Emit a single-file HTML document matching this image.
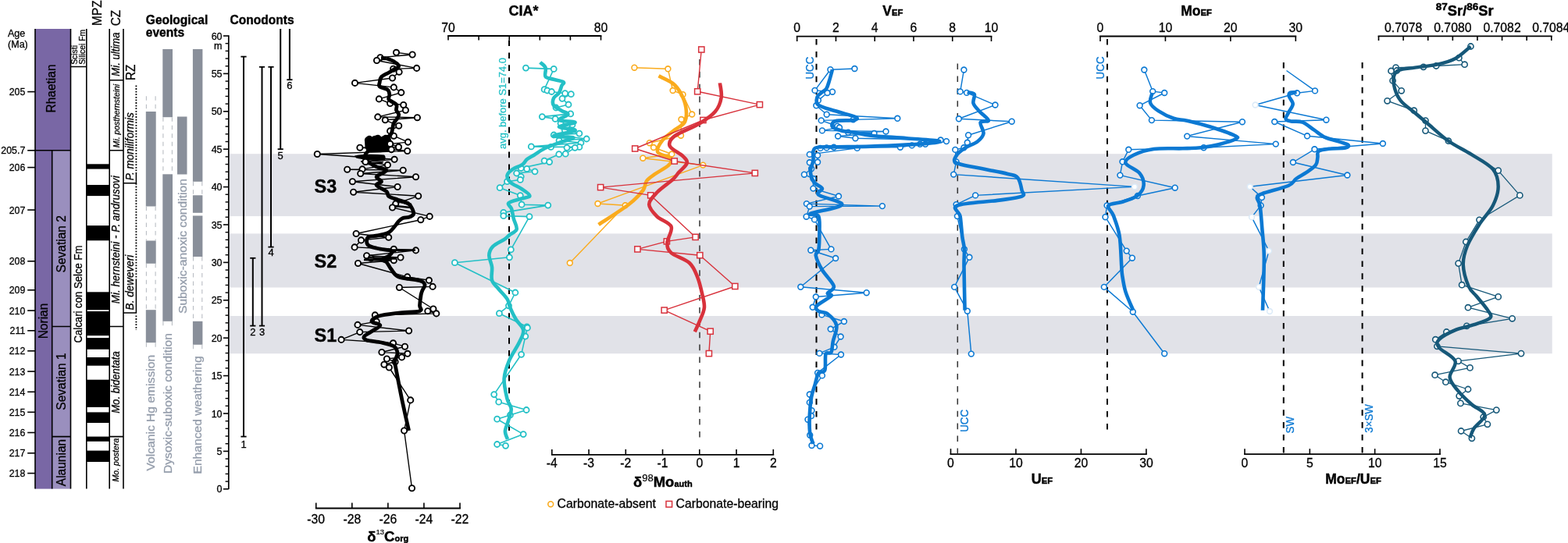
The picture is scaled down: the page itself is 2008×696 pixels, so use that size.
<!DOCTYPE html>
<html><head><meta charset="utf-8"><title>Figure</title>
<style>html,body{margin:0;padding:0;background:#fff;width:2008px;height:696px;overflow:hidden}svg{display:block}</style>
</head><body>
<svg width="2008" height="696" viewBox="0 0 2008 696" font-family="'Liberation Sans', Arial, Helvetica, sans-serif">
<rect x="293.8" y="197.2" width="1693.9" height="79.9" fill="#e1e2e8" />
<rect x="293.8" y="299.4" width="1693.9" height="69.1" fill="#e1e2e8" />
<rect x="293.8" y="405" width="1693.9" height="48.2" fill="#e1e2e8" />
<line x1="35.2" y1="117.6" x2="45" y2="117.6" stroke="#000" stroke-width="1.6" />
<text x="0" y="0" font-size="13.02" text-anchor="end" fill="#000" stroke="#000" stroke-width="0.3" transform="translate(32.3 122) scale(0.95 1)" >205</text>
<line x1="35.2" y1="192.8" x2="45" y2="192.8" stroke="#000" stroke-width="1.6" />
<text x="0" y="0" font-size="13.02" text-anchor="end" fill="#000" stroke="#000" stroke-width="0.3" transform="translate(32.3 197.2) scale(0.95 1)" >205.7</text>
<line x1="35.2" y1="214.6" x2="45" y2="214.6" stroke="#000" stroke-width="1.6" />
<text x="0" y="0" font-size="13.02" text-anchor="end" fill="#000" stroke="#000" stroke-width="0.3" transform="translate(32.3 219) scale(0.95 1)" >206</text>
<line x1="35.2" y1="269.1" x2="45" y2="269.1" stroke="#000" stroke-width="1.6" />
<text x="0" y="0" font-size="13.02" text-anchor="end" fill="#000" stroke="#000" stroke-width="0.3" transform="translate(32.3 273.5) scale(0.95 1)" >207</text>
<line x1="35.2" y1="334.8" x2="45" y2="334.8" stroke="#000" stroke-width="1.6" />
<text x="0" y="0" font-size="13.02" text-anchor="end" fill="#000" stroke="#000" stroke-width="0.3" transform="translate(32.3 339.2) scale(0.95 1)" >208</text>
<line x1="35.2" y1="371.8" x2="45" y2="371.8" stroke="#000" stroke-width="1.6" />
<text x="0" y="0" font-size="13.02" text-anchor="end" fill="#000" stroke="#000" stroke-width="0.3" transform="translate(32.3 376.2) scale(0.95 1)" >209</text>
<line x1="35.2" y1="398.1" x2="45" y2="398.1" stroke="#000" stroke-width="1.6" />
<text x="0" y="0" font-size="13.02" text-anchor="end" fill="#000" stroke="#000" stroke-width="0.3" transform="translate(32.3 402.5) scale(0.95 1)" >210</text>
<line x1="35.2" y1="423.8" x2="45" y2="423.8" stroke="#000" stroke-width="1.6" />
<text x="0" y="0" font-size="13.02" text-anchor="end" fill="#000" stroke="#000" stroke-width="0.3" transform="translate(32.3 428.2) scale(0.95 1)" >211</text>
<line x1="35.2" y1="449.8" x2="45" y2="449.8" stroke="#000" stroke-width="1.6" />
<text x="0" y="0" font-size="13.02" text-anchor="end" fill="#000" stroke="#000" stroke-width="0.3" transform="translate(32.3 454.2) scale(0.95 1)" >212</text>
<line x1="35.2" y1="476.1" x2="45" y2="476.1" stroke="#000" stroke-width="1.6" />
<text x="0" y="0" font-size="13.02" text-anchor="end" fill="#000" stroke="#000" stroke-width="0.3" transform="translate(32.3 480.5) scale(0.95 1)" >213</text>
<line x1="35.2" y1="502.3" x2="45" y2="502.3" stroke="#000" stroke-width="1.6" />
<text x="0" y="0" font-size="13.02" text-anchor="end" fill="#000" stroke="#000" stroke-width="0.3" transform="translate(32.3 506.7) scale(0.95 1)" >214</text>
<line x1="35.2" y1="528.3" x2="45" y2="528.3" stroke="#000" stroke-width="1.6" />
<text x="0" y="0" font-size="13.02" text-anchor="end" fill="#000" stroke="#000" stroke-width="0.3" transform="translate(32.3 532.7) scale(0.95 1)" >215</text>
<line x1="35.2" y1="554.5" x2="45" y2="554.5" stroke="#000" stroke-width="1.6" />
<text x="0" y="0" font-size="13.02" text-anchor="end" fill="#000" stroke="#000" stroke-width="0.3" transform="translate(32.3 558.9) scale(0.95 1)" >216</text>
<line x1="35.2" y1="580.8" x2="45" y2="580.8" stroke="#000" stroke-width="1.6" />
<text x="0" y="0" font-size="13.02" text-anchor="end" fill="#000" stroke="#000" stroke-width="0.3" transform="translate(32.3 585.2) scale(0.95 1)" >217</text>
<line x1="35.2" y1="606.6" x2="45" y2="606.6" stroke="#000" stroke-width="1.6" />
<text x="0" y="0" font-size="13.02" text-anchor="end" fill="#000" stroke="#000" stroke-width="0.3" transform="translate(32.3 611) scale(0.95 1)" >218</text>
<text x="0" y="0" font-size="13.23" text-anchor="start" fill="#000" stroke="#000" stroke-width="0.3" transform="translate(10 47) scale(0.95 1)" >Age</text>
<text x="0" y="0" font-size="13.23" text-anchor="start" fill="#000" stroke="#000" stroke-width="0.3" transform="translate(10 60.5) scale(0.95 1)" >(Ma)</text>
<rect x="45" y="37" width="45.5" height="155.8" fill="#7967a5" />
<rect x="45" y="192.8" width="21.7" height="433.8" fill="#7967a5" />
<rect x="66.7" y="192.8" width="23.8" height="433.8" fill="#9a8fbe" />
<g stroke="#000" stroke-width="1.6" fill="none">
<path d="M45,37 V626.6 M90.5,37 V626.6 M45,192.8 H90.5 M66.7,192.8 V626.6 M66.7,418.5 H90.5 M66.7,559.6 H90.5"/>
</g>
<text x="0" y="0" font-size="17.05" text-anchor="middle" fill="#000" stroke="#000" stroke-width="0.3" transform="translate(71 113.5) rotate(-90) scale(0.91 1)" >Rhaetian</text>
<text x="0" y="0" font-size="17.05" text-anchor="middle" fill="#000" stroke="#000" stroke-width="0.3" transform="translate(61.4 411.5) rotate(-90) scale(0.91 1)" >Norian</text>
<text x="0" y="0" font-size="17.05" text-anchor="middle" fill="#000" stroke="#000" stroke-width="0.3" transform="translate(84.2 312.8) rotate(-90) scale(0.91 1)" >Sevatian 2</text>
<text x="0" y="0" font-size="17.05" text-anchor="middle" fill="#000" stroke="#000" stroke-width="0.3" transform="translate(84.2 489) rotate(-90) scale(0.91 1)" >Sevatian 1</text>
<text x="0" y="0" font-size="17.05" text-anchor="middle" fill="#000" stroke="#000" stroke-width="0.3" transform="translate(84.2 593) rotate(-90) scale(0.91 1)" >Alaunian</text>
<g stroke="#000" stroke-width="1.6" fill="none">
<path d="M110.8,37 V626.6 M90.5,85.5 H110.8"/>
</g>
<text x="0" y="0" font-size="10.92" text-anchor="start" fill="#000" stroke="#000" stroke-width="0.3" transform="translate(98.9 82.8) rotate(-90) scale(0.95 1)" >Scisti</text>
<text x="0" y="0" font-size="10.92" text-anchor="start" fill="#000" stroke="#000" stroke-width="0.3" transform="translate(109.3 82.8) rotate(-90) scale(0.95 1)" >Silicei Fm</text>
<text x="0" y="0" font-size="13.86" text-anchor="middle" fill="#000" stroke="#000" stroke-width="0.3" transform="translate(104.6 377) rotate(-90) scale(0.95 1)" >Calcari con Selce Fm</text>
<rect x="110.8" y="210.3" width="29.4" height="6.3" fill="#000" />
<rect x="110.8" y="237" width="29.4" height="14.1" fill="#000" />
<rect x="110.8" y="289.1" width="29.4" height="19.2" fill="#000" />
<rect x="110.8" y="374.3" width="29.4" height="23" fill="#000" />
<rect x="110.8" y="399" width="29.4" height="31.2" fill="#000" />
<rect x="110.8" y="433.1" width="29.4" height="14.7" fill="#000" />
<rect x="110.8" y="458" width="29.4" height="10.7" fill="#000" />
<rect x="110.8" y="486.7" width="29.4" height="35.2" fill="#000" />
<rect x="110.8" y="528.4" width="29.4" height="13.6" fill="#000" />
<rect x="110.8" y="559.6" width="29.4" height="6.2" fill="#000" />
<rect x="110.8" y="577.6" width="29.4" height="14.4" fill="#000" />
<path d="M140.2,37 V626.6" stroke="#000" stroke-width="1.6"/>
<text x="0" y="0" font-size="16.28" text-anchor="middle" fill="#000" stroke="#000" stroke-width="0.3" transform="translate(130 16.6) rotate(-90) scale(0.95 1)" >MPZ</text>
<g stroke="#000" stroke-width="1.6" fill="none">
<path d="M158,37 V626.6 M140.2,102.7 H158 M140.2,192.8 H158 M140.2,418.5 H158 M140.2,559.6 H158"/>
</g>
<text x="0" y="0" font-size="16.28" text-anchor="middle" fill="#000" stroke="#000" stroke-width="0.3" transform="translate(153.6 23) rotate(-90) scale(0.95 1)" >CZ</text>
<text x="0" y="0" font-size="13.86" text-anchor="middle" fill="#000" stroke="#000" stroke-width="0.3" font-style="italic" transform="translate(152.9 69.5) rotate(-90) scale(0.95 1)" >Mi. ultima</text>
<text x="0" y="0" font-size="10.92" text-anchor="middle" fill="#000" stroke="#000" stroke-width="0.3" font-style="italic" transform="translate(152.8 148.6) rotate(-90) scale(0.95 1)" >Mi. posthernsteini</text>
<text x="0" y="0" font-size="14.07" text-anchor="middle" fill="#000" stroke="#000" stroke-width="0.3" font-style="italic" transform="translate(153.4 307.2) rotate(-90) scale(0.95 1)" >Mi. hernsteini - P. andrusovi</text>
<text x="0" y="0" font-size="13.86" text-anchor="middle" fill="#000" stroke="#000" stroke-width="0.3" font-style="italic" transform="translate(153.2 490) rotate(-90) scale(0.95 1)" >Mo. bidentata</text>
<text x="0" y="0" font-size="11.13" text-anchor="middle" fill="#000" stroke="#000" stroke-width="0.3" font-style="italic" transform="translate(151.6 589.6) rotate(-90) scale(0.95 1)" >Mo. postera</text>
<text x="0" y="0" font-size="16.28" text-anchor="middle" fill="#000" stroke="#000" stroke-width="0.3" transform="translate(172.6 92.8) rotate(-90) scale(0.95 1)" >RZ</text>
<g stroke="#000" fill="none">
<path d="M174.4,109.5 V222 M174.4,235 V358 M174.4,404.5 V423" stroke-width="1.8" stroke-dasharray="1.8 1.8"/>
<path d="M158,234.7 H174.4 V222 M158,401 H174.4 V358" stroke-width="1.5"/>
</g>
<text x="0" y="0" font-size="14.28" text-anchor="middle" fill="#000" stroke="#000" stroke-width="0.3" font-style="italic" transform="translate(170.5 187.8) rotate(-90) scale(0.95 1)" >P. moniliformis</text>
<text x="0" y="0" font-size="14.28" text-anchor="middle" fill="#000" stroke="#000" stroke-width="0.3" font-style="italic" transform="translate(170.5 362) rotate(-90) scale(0.95 1)" >B. deweveri</text>
<text x="0" y="0" font-size="16.38" text-anchor="start" fill="#000" font-weight="bold" stroke="#000" stroke-width="0.4" transform="translate(186.8 31.2) scale(0.95 1)" >Geological</text>
<text x="0" y="0" font-size="16.38" text-anchor="start" fill="#000" font-weight="bold" stroke="#000" stroke-width="0.4" transform="translate(186.8 46.8) scale(0.95 1)" >events</text>
<rect x="186.8" y="143" width="12.9" height="121.5" fill="#898f9a" />
<rect x="186.8" y="308.5" width="12.9" height="29.3" fill="#898f9a" />
<rect x="186.8" y="397.2" width="12.9" height="42" fill="#898f9a" />
<path d="M187.4,123.3 V143 M199.1,123.3 V143" stroke="#b9bdc4" stroke-width="1.1" stroke-dasharray="5.5 5" fill="none"/>
<path d="M187.4,264.5 V308.5 M199.1,264.5 V308.5" stroke="#b9bdc4" stroke-width="1.1" stroke-dasharray="5.5 5" fill="none"/>
<path d="M187.4,337.8 V397.2 M199.1,337.8 V397.2" stroke="#b9bdc4" stroke-width="1.1" stroke-dasharray="5.5 5" fill="none"/>
<path d="M187.4,439.2 V448.5 M199.1,439.2 V448.5" stroke="#b9bdc4" stroke-width="1.1" stroke-dasharray="5.5 5" fill="none"/>
<rect x="208.3" y="63" width="12.7" height="87.2" fill="#898f9a" />
<rect x="208.3" y="223.3" width="12.7" height="188.5" fill="#898f9a" />
<path d="M208.9,150.2 V223.3 M220.4,150.2 V223.3" stroke="#b9bdc4" stroke-width="1.1" stroke-dasharray="5.5 5" fill="none"/>
<path d="M208.9,411.8 V419.5 M220.4,411.8 V419.5" stroke="#b9bdc4" stroke-width="1.1" stroke-dasharray="5.5 5" fill="none"/>
<rect x="227" y="149.5" width="12.5" height="74" fill="#898f9a" />
<rect x="246.9" y="63" width="12.5" height="169.8" fill="#898f9a" />
<rect x="246.9" y="250.3" width="12.5" height="22.5" fill="#898f9a" />
<rect x="246.9" y="276.5" width="12.5" height="52.5" fill="#898f9a" />
<rect x="246.9" y="411.8" width="12.5" height="30" fill="#898f9a" />
<path d="M247.5,232.8 V250.3 M258.8,232.8 V250.3" stroke="#b9bdc4" stroke-width="1.1" stroke-dasharray="5.5 5" fill="none"/>
<path d="M247.5,329 V411.8 M258.8,329 V411.8" stroke="#b9bdc4" stroke-width="1.1" stroke-dasharray="5.5 5" fill="none"/>
<path d="M247.5,441.8 V449 M258.8,441.8 V449" stroke="#b9bdc4" stroke-width="1.1" stroke-dasharray="5.5 5" fill="none"/>
<text x="0" y="0" font-size="14.91" text-anchor="start" fill="#949dab" stroke="#949dab" stroke-width="0.3" transform="translate(197.7 603.5) rotate(-90) scale(1.05 1)" >Volcanic Hg emission</text>
<text x="0" y="0" font-size="14.91" text-anchor="start" fill="#949dab" stroke="#949dab" stroke-width="0.3" transform="translate(219.6 607) rotate(-90) scale(1.05 1)" >Dysoxic-suboxic condition</text>
<text x="0" y="0" font-size="14.91" text-anchor="start" fill="#949dab" stroke="#949dab" stroke-width="0.3" transform="translate(238.8 402) rotate(-90) scale(1.05 1)" >Suboxic-anoxic condition</text>
<text x="0" y="0" font-size="14.91" text-anchor="start" fill="#949dab" stroke="#949dab" stroke-width="0.3" transform="translate(257.8 607.5) rotate(-90) scale(1.05 1)" >Enhanced weathering</text>
<path d="M292.8,45.3 V626.9" stroke="#000" stroke-width="1.7"/>
<line x1="286" y1="626.8" x2="292.8" y2="626.8" stroke="#000" stroke-width="1.6" />
<line x1="288.6" y1="617.12" x2="292.8" y2="617.12" stroke="#000" stroke-width="1.4" />
<line x1="288.6" y1="607.44" x2="292.8" y2="607.44" stroke="#000" stroke-width="1.4" />
<line x1="288.6" y1="597.76" x2="292.8" y2="597.76" stroke="#000" stroke-width="1.4" />
<line x1="288.6" y1="588.08" x2="292.8" y2="588.08" stroke="#000" stroke-width="1.4" />
<line x1="286" y1="578.4" x2="292.8" y2="578.4" stroke="#000" stroke-width="1.6" />
<line x1="288.6" y1="568.72" x2="292.8" y2="568.72" stroke="#000" stroke-width="1.4" />
<line x1="288.6" y1="559.04" x2="292.8" y2="559.04" stroke="#000" stroke-width="1.4" />
<line x1="288.6" y1="549.36" x2="292.8" y2="549.36" stroke="#000" stroke-width="1.4" />
<line x1="288.6" y1="539.68" x2="292.8" y2="539.68" stroke="#000" stroke-width="1.4" />
<line x1="286" y1="530" x2="292.8" y2="530" stroke="#000" stroke-width="1.6" />
<line x1="288.6" y1="520.32" x2="292.8" y2="520.32" stroke="#000" stroke-width="1.4" />
<line x1="288.6" y1="510.64" x2="292.8" y2="510.64" stroke="#000" stroke-width="1.4" />
<line x1="288.6" y1="500.96" x2="292.8" y2="500.96" stroke="#000" stroke-width="1.4" />
<line x1="288.6" y1="491.28" x2="292.8" y2="491.28" stroke="#000" stroke-width="1.4" />
<line x1="286" y1="481.6" x2="292.8" y2="481.6" stroke="#000" stroke-width="1.6" />
<line x1="288.6" y1="471.92" x2="292.8" y2="471.92" stroke="#000" stroke-width="1.4" />
<line x1="288.6" y1="462.24" x2="292.8" y2="462.24" stroke="#000" stroke-width="1.4" />
<line x1="288.6" y1="452.56" x2="292.8" y2="452.56" stroke="#000" stroke-width="1.4" />
<line x1="288.6" y1="442.88" x2="292.8" y2="442.88" stroke="#000" stroke-width="1.4" />
<line x1="286" y1="433.2" x2="292.8" y2="433.2" stroke="#000" stroke-width="1.6" />
<line x1="288.6" y1="423.52" x2="292.8" y2="423.52" stroke="#000" stroke-width="1.4" />
<line x1="288.6" y1="413.84" x2="292.8" y2="413.84" stroke="#000" stroke-width="1.4" />
<line x1="288.6" y1="404.16" x2="292.8" y2="404.16" stroke="#000" stroke-width="1.4" />
<line x1="288.6" y1="394.48" x2="292.8" y2="394.48" stroke="#000" stroke-width="1.4" />
<line x1="286" y1="384.8" x2="292.8" y2="384.8" stroke="#000" stroke-width="1.6" />
<line x1="288.6" y1="375.12" x2="292.8" y2="375.12" stroke="#000" stroke-width="1.4" />
<line x1="288.6" y1="365.44" x2="292.8" y2="365.44" stroke="#000" stroke-width="1.4" />
<line x1="288.6" y1="355.76" x2="292.8" y2="355.76" stroke="#000" stroke-width="1.4" />
<line x1="288.6" y1="346.08" x2="292.8" y2="346.08" stroke="#000" stroke-width="1.4" />
<line x1="286" y1="336.4" x2="292.8" y2="336.4" stroke="#000" stroke-width="1.6" />
<line x1="288.6" y1="326.72" x2="292.8" y2="326.72" stroke="#000" stroke-width="1.4" />
<line x1="288.6" y1="317.04" x2="292.8" y2="317.04" stroke="#000" stroke-width="1.4" />
<line x1="288.6" y1="307.36" x2="292.8" y2="307.36" stroke="#000" stroke-width="1.4" />
<line x1="288.6" y1="297.68" x2="292.8" y2="297.68" stroke="#000" stroke-width="1.4" />
<line x1="286" y1="288" x2="292.8" y2="288" stroke="#000" stroke-width="1.6" />
<line x1="288.6" y1="278.32" x2="292.8" y2="278.32" stroke="#000" stroke-width="1.4" />
<line x1="288.6" y1="268.64" x2="292.8" y2="268.64" stroke="#000" stroke-width="1.4" />
<line x1="288.6" y1="258.96" x2="292.8" y2="258.96" stroke="#000" stroke-width="1.4" />
<line x1="288.6" y1="249.28" x2="292.8" y2="249.28" stroke="#000" stroke-width="1.4" />
<line x1="286" y1="239.6" x2="292.8" y2="239.6" stroke="#000" stroke-width="1.6" />
<line x1="288.6" y1="229.92" x2="292.8" y2="229.92" stroke="#000" stroke-width="1.4" />
<line x1="288.6" y1="220.24" x2="292.8" y2="220.24" stroke="#000" stroke-width="1.4" />
<line x1="288.6" y1="210.56" x2="292.8" y2="210.56" stroke="#000" stroke-width="1.4" />
<line x1="288.6" y1="200.88" x2="292.8" y2="200.88" stroke="#000" stroke-width="1.4" />
<line x1="286" y1="191.2" x2="292.8" y2="191.2" stroke="#000" stroke-width="1.6" />
<line x1="288.6" y1="181.52" x2="292.8" y2="181.52" stroke="#000" stroke-width="1.4" />
<line x1="288.6" y1="171.84" x2="292.8" y2="171.84" stroke="#000" stroke-width="1.4" />
<line x1="288.6" y1="162.16" x2="292.8" y2="162.16" stroke="#000" stroke-width="1.4" />
<line x1="288.6" y1="152.48" x2="292.8" y2="152.48" stroke="#000" stroke-width="1.4" />
<line x1="286" y1="142.8" x2="292.8" y2="142.8" stroke="#000" stroke-width="1.6" />
<line x1="288.6" y1="133.12" x2="292.8" y2="133.12" stroke="#000" stroke-width="1.4" />
<line x1="288.6" y1="123.44" x2="292.8" y2="123.44" stroke="#000" stroke-width="1.4" />
<line x1="288.6" y1="113.76" x2="292.8" y2="113.76" stroke="#000" stroke-width="1.4" />
<line x1="288.6" y1="104.08" x2="292.8" y2="104.08" stroke="#000" stroke-width="1.4" />
<line x1="286" y1="94.4" x2="292.8" y2="94.4" stroke="#000" stroke-width="1.6" />
<line x1="288.6" y1="84.72" x2="292.8" y2="84.72" stroke="#000" stroke-width="1.4" />
<line x1="288.6" y1="75.04" x2="292.8" y2="75.04" stroke="#000" stroke-width="1.4" />
<line x1="288.6" y1="65.36" x2="292.8" y2="65.36" stroke="#000" stroke-width="1.4" />
<line x1="288.6" y1="55.68" x2="292.8" y2="55.68" stroke="#000" stroke-width="1.4" />
<line x1="286" y1="46" x2="292.8" y2="46" stroke="#000" stroke-width="1.6" />
<text x="0" y="0" font-size="13.23" text-anchor="end" fill="#000" stroke="#000" stroke-width="0.3" transform="translate(284.6 631.3) scale(0.95 1)" >0</text>
<text x="0" y="0" font-size="13.23" text-anchor="end" fill="#000" stroke="#000" stroke-width="0.3" transform="translate(284.6 582.9) scale(0.95 1)" >5</text>
<text x="0" y="0" font-size="13.23" text-anchor="end" fill="#000" stroke="#000" stroke-width="0.3" transform="translate(284.6 534.5) scale(0.95 1)" >10</text>
<text x="0" y="0" font-size="13.23" text-anchor="end" fill="#000" stroke="#000" stroke-width="0.3" transform="translate(284.6 486.1) scale(0.95 1)" >15</text>
<text x="0" y="0" font-size="13.23" text-anchor="end" fill="#000" stroke="#000" stroke-width="0.3" transform="translate(284.6 437.7) scale(0.95 1)" >20</text>
<text x="0" y="0" font-size="13.23" text-anchor="end" fill="#000" stroke="#000" stroke-width="0.3" transform="translate(284.6 389.3) scale(0.95 1)" >25</text>
<text x="0" y="0" font-size="13.23" text-anchor="end" fill="#000" stroke="#000" stroke-width="0.3" transform="translate(284.6 340.9) scale(0.95 1)" >30</text>
<text x="0" y="0" font-size="13.23" text-anchor="end" fill="#000" stroke="#000" stroke-width="0.3" transform="translate(284.6 292.5) scale(0.95 1)" >35</text>
<text x="0" y="0" font-size="13.23" text-anchor="end" fill="#000" stroke="#000" stroke-width="0.3" transform="translate(284.6 244.1) scale(0.95 1)" >40</text>
<text x="0" y="0" font-size="13.23" text-anchor="end" fill="#000" stroke="#000" stroke-width="0.3" transform="translate(284.6 195.7) scale(0.95 1)" >45</text>
<text x="0" y="0" font-size="13.23" text-anchor="end" fill="#000" stroke="#000" stroke-width="0.3" transform="translate(284.6 147.3) scale(0.95 1)" >50</text>
<text x="0" y="0" font-size="13.23" text-anchor="end" fill="#000" stroke="#000" stroke-width="0.3" transform="translate(284.6 98.9) scale(0.95 1)" >55</text>
<text x="0" y="0" font-size="13.23" text-anchor="end" fill="#000" stroke="#000" stroke-width="0.3" transform="translate(284.6 50.5) scale(0.95 1)" >60</text>
<text x="0" y="0" font-size="13.23" text-anchor="end" fill="#000" stroke="#000" stroke-width="0.3" transform="translate(284.4 62.8) scale(0.95 1)" >m</text>
<text x="0" y="0" font-size="16.38" text-anchor="start" fill="#000" font-weight="bold" stroke="#000" stroke-width="0.4" transform="translate(294.5 31.2) scale(0.95 1)" >Conodonts</text>
<line x1="312" y1="72.6" x2="312" y2="559.6" stroke="#000" stroke-width="2" />
<line x1="308.4" y1="72.6" x2="315.6" y2="72.6" stroke="#000" stroke-width="1.8" />
<line x1="308.4" y1="559.6" x2="315.6" y2="559.6" stroke="#000" stroke-width="1.8" />
<text x="0" y="0" font-size="13.65" text-anchor="middle" fill="#000" stroke="#000" stroke-width="0.3" transform="translate(312 573.8) scale(0.95 1)" >1</text>
<line x1="323.8" y1="330.8" x2="323.8" y2="417.6" stroke="#000" stroke-width="2" />
<line x1="320.2" y1="330.8" x2="327.4" y2="330.8" stroke="#000" stroke-width="1.8" />
<line x1="320.2" y1="417.6" x2="327.4" y2="417.6" stroke="#000" stroke-width="1.8" />
<text x="0" y="0" font-size="13.65" text-anchor="middle" fill="#000" stroke="#000" stroke-width="0.3" transform="translate(323.8 430) scale(0.95 1)" >2</text>
<line x1="335.5" y1="85.8" x2="335.5" y2="417.6" stroke="#000" stroke-width="2" />
<line x1="331.9" y1="85.8" x2="339.1" y2="85.8" stroke="#000" stroke-width="1.8" />
<line x1="331.9" y1="417.6" x2="339.1" y2="417.6" stroke="#000" stroke-width="1.8" />
<text x="0" y="0" font-size="13.65" text-anchor="middle" fill="#000" stroke="#000" stroke-width="0.3" transform="translate(335.5 430) scale(0.95 1)" >3</text>
<line x1="347" y1="85.8" x2="347" y2="316.6" stroke="#000" stroke-width="2" />
<line x1="343.4" y1="85.8" x2="350.6" y2="85.8" stroke="#000" stroke-width="1.8" />
<line x1="343.4" y1="316.6" x2="350.6" y2="316.6" stroke="#000" stroke-width="1.8" />
<text x="0" y="0" font-size="13.65" text-anchor="middle" fill="#000" stroke="#000" stroke-width="0.3" transform="translate(347 328.3) scale(0.95 1)" >4</text>
<line x1="359.2" y1="37" x2="359.2" y2="191.2" stroke="#000" stroke-width="2" />
<line x1="355.6" y1="191.2" x2="362.8" y2="191.2" stroke="#000" stroke-width="1.8" />
<text x="0" y="0" font-size="13.65" text-anchor="middle" fill="#000" stroke="#000" stroke-width="0.3" transform="translate(359.2 204) scale(0.95 1)" >5</text>
<line x1="370.9" y1="37" x2="370.9" y2="102.2" stroke="#000" stroke-width="2" />
<line x1="367.3" y1="102.2" x2="374.5" y2="102.2" stroke="#000" stroke-width="1.8" />
<text x="0" y="0" font-size="13.65" text-anchor="middle" fill="#000" stroke="#000" stroke-width="0.3" transform="translate(370.9 114.3) scale(0.95 1)" >6</text>
<text x="0" y="0" font-size="24.68" text-anchor="start" fill="#000" font-weight="bold" stroke="#000" stroke-width="0.4" transform="translate(402.6 246.6) scale(0.95 1)" >S3</text>
<text x="0" y="0" font-size="24.68" text-anchor="start" fill="#000" font-weight="bold" stroke="#000" stroke-width="0.4" transform="translate(402.6 343) scale(0.95 1)" >S2</text>
<text x="0" y="0" font-size="24.68" text-anchor="start" fill="#000" font-weight="bold" stroke="#000" stroke-width="0.4" transform="translate(402.6 438.2) scale(0.95 1)" >S1</text>
<path d="M403.85,651.5 H589.9" stroke="#000" stroke-width="1.8"/>
<path d="M404.75,651.5 V644.5" stroke="#000" stroke-width="1.6"/>
<path d="M450.81,651.5 V644.5" stroke="#000" stroke-width="1.6"/>
<path d="M496.87,651.5 V644.5" stroke="#000" stroke-width="1.6"/>
<path d="M542.93,651.5 V644.5" stroke="#000" stroke-width="1.6"/>
<path d="M588.99,651.5 V644.5" stroke="#000" stroke-width="1.6"/>
<text x="0" y="0" font-size="16.59" text-anchor="middle" fill="#000" stroke="#000" stroke-width="0.3" transform="translate(404.75 671) scale(0.95 1)" >-30</text>
<text x="0" y="0" font-size="16.59" text-anchor="middle" fill="#000" stroke="#000" stroke-width="0.3" transform="translate(450.81 671) scale(0.95 1)" >-28</text>
<text x="0" y="0" font-size="16.59" text-anchor="middle" fill="#000" stroke="#000" stroke-width="0.3" transform="translate(496.87 671) scale(0.95 1)" >-26</text>
<text x="0" y="0" font-size="16.59" text-anchor="middle" fill="#000" stroke="#000" stroke-width="0.3" transform="translate(542.93 671) scale(0.95 1)" >-24</text>
<text x="0" y="0" font-size="16.59" text-anchor="middle" fill="#000" stroke="#000" stroke-width="0.3" transform="translate(588.99 671) scale(0.95 1)" >-22</text>
<text x="470.3" y="693.8" font-family="'Liberation Sans', Arial, Helvetica, sans-serif" font-weight="bold" fill="#000" stroke="#000" stroke-width="0.45"><tspan font-size="18.5">δ</tspan><tspan font-size="9.5" dy="-8.8" font-weight="normal" stroke-width="0.2">13</tspan><tspan font-size="18.5" dy="8.8">C</tspan><tspan font-size="11">org</tspan></text>
<path d="M573.1,46 H770.4" stroke="#000" stroke-width="1.8"/>
<path d="M574,46 V51.6" stroke="#000" stroke-width="1.6"/>
<path d="M613.1,46 V51.6" stroke="#000" stroke-width="1.6"/>
<path d="M652.2,46 V51.6" stroke="#000" stroke-width="1.6"/>
<path d="M691.3,46 V51.6" stroke="#000" stroke-width="1.6"/>
<path d="M730.4,46 V51.6" stroke="#000" stroke-width="1.6"/>
<path d="M769.5,46 V51.6" stroke="#000" stroke-width="1.6"/>
<text x="0" y="0" font-size="16.59" text-anchor="middle" fill="#000" stroke="#000" stroke-width="0.3" transform="translate(574 40.9) scale(0.95 1)" >70</text>
<text x="0" y="0" font-size="16.59" text-anchor="middle" fill="#000" stroke="#000" stroke-width="0.3" transform="translate(769.5 40.9) scale(0.95 1)" >80</text>
<text x="0" y="0" font-size="18.9" text-anchor="middle" fill="#000" font-weight="bold" stroke="#000" stroke-width="0.4" transform="translate(670.5 19.6) scale(0.95 1)" >CIA*</text>
<path d="M652,51.5 V553" stroke="#000" stroke-width="2" stroke-dasharray="7.6 8.3"/>
<text x="0" y="0" font-size="13.65" text-anchor="start" fill="#24c0c6" stroke="#24c0c6" stroke-width="0.3" transform="translate(648.2 191) rotate(-90) scale(0.95 1)" >avg. before S1=74.0</text>
<path d="M705.9,582.9 H991.2" stroke="#000" stroke-width="1.8"/>
<path d="M706.8,582.9 V575.9" stroke="#000" stroke-width="1.6"/>
<path d="M754.05,582.9 V575.9" stroke="#000" stroke-width="1.6"/>
<path d="M801.3,582.9 V575.9" stroke="#000" stroke-width="1.6"/>
<path d="M848.55,582.9 V575.9" stroke="#000" stroke-width="1.6"/>
<path d="M895.8,582.9 V575.9" stroke="#000" stroke-width="1.6"/>
<path d="M943.05,582.9 V575.9" stroke="#000" stroke-width="1.6"/>
<path d="M990.3,582.9 V575.9" stroke="#000" stroke-width="1.6"/>
<text x="0" y="0" font-size="16.59" text-anchor="middle" fill="#000" stroke="#000" stroke-width="0.3" transform="translate(706.8 598.8) scale(0.95 1)" >-4</text>
<text x="0" y="0" font-size="16.59" text-anchor="middle" fill="#000" stroke="#000" stroke-width="0.3" transform="translate(754.05 598.8) scale(0.95 1)" >-3</text>
<text x="0" y="0" font-size="16.59" text-anchor="middle" fill="#000" stroke="#000" stroke-width="0.3" transform="translate(801.3 598.8) scale(0.95 1)" >-2</text>
<text x="0" y="0" font-size="16.59" text-anchor="middle" fill="#000" stroke="#000" stroke-width="0.3" transform="translate(848.55 598.8) scale(0.95 1)" >-1</text>
<text x="0" y="0" font-size="16.59" text-anchor="middle" fill="#000" stroke="#000" stroke-width="0.3" transform="translate(895.8 598.8) scale(0.95 1)" >0</text>
<text x="0" y="0" font-size="16.59" text-anchor="middle" fill="#000" stroke="#000" stroke-width="0.3" transform="translate(943.05 598.8) scale(0.95 1)" >1</text>
<text x="0" y="0" font-size="16.59" text-anchor="middle" fill="#000" stroke="#000" stroke-width="0.3" transform="translate(990.3 598.8) scale(0.95 1)" >2</text>
<path d="M896,60 V567" stroke="#333" stroke-width="1.5" stroke-dasharray="7.6 8.3"/>
<text x="811.0" y="623.6" font-family="'Liberation Sans', Arial, Helvetica, sans-serif" font-weight="bold" fill="#000" stroke="#000" stroke-width="0.45"><tspan font-size="18.5">δ</tspan><tspan font-size="13" dy="-6.5" font-weight="normal" stroke-width="0.2">98</tspan><tspan font-size="18.5" dy="6.5">Mo</tspan><tspan font-size="11">auth</tspan></text>
<circle cx="705.2" cy="646.2" r="3.4" fill="#fff" stroke="#faab1d" stroke-width="1.6"/>
<text x="0" y="0" font-size="16.6" text-anchor="start" fill="#000" stroke="#000" stroke-width="0.3" transform="translate(713.6 651.2) scale(0.95 1)" >Carbonate-absent</text>
<rect x="853" y="642.4" width="7.6" height="7.6" fill="#fff" stroke="#d8323c" stroke-width="1.5" />
<text x="0" y="0" font-size="16.6" text-anchor="start" fill="#000" stroke="#000" stroke-width="0.3" transform="translate(865.6 651.2) scale(0.95 1)" >Carbonate-bearing</text>
<path d="M1019.8,46.6 H1270.4" stroke="#000" stroke-width="1.8"/>
<path d="M1020.7,46.6 V53" stroke="#000" stroke-width="1.6"/>
<path d="M1070.46,46.6 V53" stroke="#000" stroke-width="1.6"/>
<path d="M1120.22,46.6 V53" stroke="#000" stroke-width="1.6"/>
<path d="M1169.98,46.6 V53" stroke="#000" stroke-width="1.6"/>
<path d="M1219.74,46.6 V53" stroke="#000" stroke-width="1.6"/>
<path d="M1269.5,46.6 V53" stroke="#000" stroke-width="1.6"/>
<text x="0" y="0" font-size="16.59" text-anchor="middle" fill="#000" stroke="#000" stroke-width="0.3" transform="translate(1020.7 40.9) scale(0.95 1)" >0</text>
<text x="0" y="0" font-size="16.59" text-anchor="middle" fill="#000" stroke="#000" stroke-width="0.3" transform="translate(1070.46 40.9) scale(0.95 1)" >2</text>
<text x="0" y="0" font-size="16.59" text-anchor="middle" fill="#000" stroke="#000" stroke-width="0.3" transform="translate(1120.22 40.9) scale(0.95 1)" >4</text>
<text x="0" y="0" font-size="16.59" text-anchor="middle" fill="#000" stroke="#000" stroke-width="0.3" transform="translate(1169.98 40.9) scale(0.95 1)" >6</text>
<text x="0" y="0" font-size="16.59" text-anchor="middle" fill="#000" stroke="#000" stroke-width="0.3" transform="translate(1219.74 40.9) scale(0.95 1)" >8</text>
<text x="0" y="0" font-size="16.59" text-anchor="middle" fill="#000" stroke="#000" stroke-width="0.3" transform="translate(1269.5 40.9) scale(0.95 1)" >10</text>
<text x="1130.2" y="19.6" font-family="'Liberation Sans', Arial, Helvetica, sans-serif" font-weight="bold" fill="#000" stroke="#000" stroke-width="0.45"><tspan font-size="17.5">V</tspan><tspan font-size="11.3">EF</tspan></text>
<path d="M1045.5,50 V553" stroke="#000" stroke-width="2" stroke-dasharray="7.6 8.3"/>
<text x="0" y="0" font-size="14.07" text-anchor="start" fill="#0c79d3" stroke="#0c79d3" stroke-width="0.3" transform="translate(1042 101.6) rotate(-90) scale(0.95 1)" >UCC</text>
<path d="M1216.6,582.2 H1468.8" stroke="#000" stroke-width="1.8"/>
<path d="M1217.5,582.2 V575.2" stroke="#000" stroke-width="1.6"/>
<path d="M1300.97,582.2 V575.2" stroke="#000" stroke-width="1.6"/>
<path d="M1384.44,582.2 V575.2" stroke="#000" stroke-width="1.6"/>
<path d="M1467.91,582.2 V575.2" stroke="#000" stroke-width="1.6"/>
<text x="0" y="0" font-size="16.59" text-anchor="middle" fill="#000" stroke="#000" stroke-width="0.3" transform="translate(1217.5 598.8) scale(0.95 1)" >0</text>
<text x="0" y="0" font-size="16.59" text-anchor="middle" fill="#000" stroke="#000" stroke-width="0.3" transform="translate(1300.97 598.8) scale(0.95 1)" >10</text>
<text x="0" y="0" font-size="16.59" text-anchor="middle" fill="#000" stroke="#000" stroke-width="0.3" transform="translate(1384.44 598.8) scale(0.95 1)" >20</text>
<text x="0" y="0" font-size="16.59" text-anchor="middle" fill="#000" stroke="#000" stroke-width="0.3" transform="translate(1467.91 598.8) scale(0.95 1)" >30</text>
<text x="1320.8" y="620.4" font-family="'Liberation Sans', Arial, Helvetica, sans-serif" font-weight="bold" fill="#000" stroke="#000" stroke-width="0.45"><tspan font-size="18">U</tspan><tspan font-size="11.3">EF</tspan></text>
<path d="M1226.3,81.5 V582" stroke="#333" stroke-width="1.5" stroke-dasharray="7.6 8.3"/>
<text x="0" y="0" font-size="14.07" text-anchor="start" fill="#0c79d3" stroke="#0c79d3" stroke-width="0.3" transform="translate(1240.2 553.8) rotate(-90) scale(0.95 1)" >UCC</text>
<path d="M1408.1,46.5 H1660.2" stroke="#000" stroke-width="1.8"/>
<path d="M1409,46.5 V52.9" stroke="#000" stroke-width="1.6"/>
<path d="M1492.43,46.5 V52.9" stroke="#000" stroke-width="1.6"/>
<path d="M1575.86,46.5 V52.9" stroke="#000" stroke-width="1.6"/>
<path d="M1659.29,46.5 V52.9" stroke="#000" stroke-width="1.6"/>
<text x="0" y="0" font-size="16.59" text-anchor="middle" fill="#000" stroke="#000" stroke-width="0.3" transform="translate(1409 40.9) scale(0.95 1)" >0</text>
<text x="0" y="0" font-size="16.59" text-anchor="middle" fill="#000" stroke="#000" stroke-width="0.3" transform="translate(1492.43 40.9) scale(0.95 1)" >10</text>
<text x="0" y="0" font-size="16.59" text-anchor="middle" fill="#000" stroke="#000" stroke-width="0.3" transform="translate(1575.86 40.9) scale(0.95 1)" >20</text>
<text x="0" y="0" font-size="16.59" text-anchor="middle" fill="#000" stroke="#000" stroke-width="0.3" transform="translate(1659.29 40.9) scale(0.95 1)" >30</text>
<text x="1512.2" y="20.2" font-family="'Liberation Sans', Arial, Helvetica, sans-serif" font-weight="bold" fill="#000" stroke="#000" stroke-width="0.45"><tspan font-size="17.5">Mo</tspan><tspan font-size="11.3">EF</tspan></text>
<path d="M1418,50 V551.5" stroke="#000" stroke-width="2" stroke-dasharray="7.6 8.3"/>
<text x="0" y="0" font-size="14.07" text-anchor="start" fill="#0c79d3" stroke="#0c79d3" stroke-width="0.3" transform="translate(1413.6 101.4) rotate(-90) scale(0.95 1)" >UCC</text>
<path d="M1593.1,582.2 H1844.9" stroke="#000" stroke-width="1.8"/>
<path d="M1594,582.2 V575.2" stroke="#000" stroke-width="1.6"/>
<path d="M1677.33,582.2 V575.2" stroke="#000" stroke-width="1.6"/>
<path d="M1760.66,582.2 V575.2" stroke="#000" stroke-width="1.6"/>
<path d="M1843.99,582.2 V575.2" stroke="#000" stroke-width="1.6"/>
<text x="0" y="0" font-size="16.59" text-anchor="middle" fill="#000" stroke="#000" stroke-width="0.3" transform="translate(1594 598.8) scale(0.95 1)" >0</text>
<text x="0" y="0" font-size="16.59" text-anchor="middle" fill="#000" stroke="#000" stroke-width="0.3" transform="translate(1677.33 598.8) scale(0.95 1)" >5</text>
<text x="0" y="0" font-size="16.59" text-anchor="middle" fill="#000" stroke="#000" stroke-width="0.3" transform="translate(1760.66 598.8) scale(0.95 1)" >10</text>
<text x="0" y="0" font-size="16.59" text-anchor="middle" fill="#000" stroke="#000" stroke-width="0.3" transform="translate(1843.99 598.8) scale(0.95 1)" >15</text>
<text x="1697.2" y="620.4" font-family="'Liberation Sans', Arial, Helvetica, sans-serif" font-weight="bold" fill="#000" stroke="#000" stroke-width="0.45"><tspan font-size="17.5">Mo</tspan><tspan font-size="11.3">EF</tspan><tspan font-size="17.5">/U</tspan><tspan font-size="11.3">EF</tspan></text>
<path d="M1643.8,80 V582" stroke="#000" stroke-width="2" stroke-dasharray="7.6 8.3"/>
<path d="M1744.6,80 V582" stroke="#000" stroke-width="2" stroke-dasharray="7.6 8.3"/>
<text x="0" y="0" font-size="14.07" text-anchor="start" fill="#0c79d3" stroke="#0c79d3" stroke-width="0.3" transform="translate(1657 555.4) rotate(-90) scale(0.95 1)" >SW</text>
<text x="0" y="0" font-size="14.07" text-anchor="start" fill="#0c79d3" stroke="#0c79d3" stroke-width="0.3" transform="translate(1758 554.8) rotate(-90) scale(0.95 1)" >3×SW</text>
<path d="M1764.6,46.4 H1987.7" stroke="#000" stroke-width="1.8"/>
<path d="M1765.5,46.4 V52" stroke="#000" stroke-width="1.6"/>
<path d="M1797.11,46.4 V52" stroke="#000" stroke-width="1.6"/>
<path d="M1828.72,46.4 V52" stroke="#000" stroke-width="1.6"/>
<path d="M1860.33,46.4 V52" stroke="#000" stroke-width="1.6"/>
<path d="M1891.94,46.4 V52" stroke="#000" stroke-width="1.6"/>
<path d="M1923.55,46.4 V52" stroke="#000" stroke-width="1.6"/>
<path d="M1955.16,46.4 V52" stroke="#000" stroke-width="1.6"/>
<path d="M1986.77,46.4 V52" stroke="#000" stroke-width="1.6"/>
<text x="0" y="0" font-size="16.59" text-anchor="middle" fill="#000" stroke="#000" stroke-width="0.3" transform="translate(1797.11 40.9) scale(0.95 1)" >0.7078</text>
<text x="0" y="0" font-size="16.59" text-anchor="middle" fill="#000" stroke="#000" stroke-width="0.3" transform="translate(1860.33 40.9) scale(0.95 1)" >0.7080</text>
<text x="0" y="0" font-size="16.59" text-anchor="middle" fill="#000" stroke="#000" stroke-width="0.3" transform="translate(1923.55 40.9) scale(0.95 1)" >0.7082</text>
<text x="0" y="0" font-size="16.59" text-anchor="middle" fill="#000" stroke="#000" stroke-width="0.3" transform="translate(1986.27 40.9) scale(0.95 1)" >0.7084</text>
<text x="1838.8" y="19.6" font-family="'Liberation Sans', Arial, Helvetica, sans-serif" font-weight="bold" fill="#000" stroke="#000" stroke-width="0.45"><tspan font-size="13.5" dy="-6.8">87</tspan><tspan font-size="18.3" dy="6.8">Sr/</tspan><tspan font-size="13.5" dy="-6.8">86</tspan><tspan font-size="18.3" dy="6.8">Sr</tspan></text>
<path d="M507.5,67.3 L528.1,70 L487,73.7 L482.5,77.5 L533.6,87.4 L503.6,88.2 L511.1,92.2 L502.5,100 L454.5,106.4 L504.3,111.9 L513.8,118.6 L485.4,126.9 L499.6,132.5 L516.7,134.5 L519.4,141.2 L483.8,149.9 L534.4,150.7 L493.3,153.8 L510.7,161.2 L499.6,167.9 L504.3,174.2 L522.5,182.1 L499.6,184.5 L510.4,188.5 L460.9,189.2 L501.2,191.6 L521.7,193.5 L406.3,197.5 L505.1,204.3 L468,207.4 L496.4,211.4 L464,216.9 L444.7,217.2 L516.2,218.2 L461.7,222.5 L532.5,226.7 L451.4,232.7 L509.1,239.5 L452.6,246.2 L535.7,251.2 L506.7,261.2 L502.5,266 L550.2,277.4 L538.8,281.7 L456.1,299.5 L497.7,304.3 L462.5,307.9 L454.1,316.9 L504.3,319.3 L532.5,320.9 L469.6,327.7 L513,330 L475.1,331.1 L504.3,333.7 L458.5,337.5 L521.7,354.9 L549.4,359.3 L554.1,367.4 L511.4,368.5 L554.9,396 L547.8,398.7 L558.8,401.9 L480.3,403.9 L482.2,412.1 L458,416.4 L523.6,424 L460.8,425.6 L437.1,435.4 L503.5,439.8 L518.5,444.2 L488.9,451.5 L521.9,453.3 L514.5,457.9 L495.4,460 L506.1,463.7 L491.9,467.2 L498.3,471 L525.7,512.9 L517.6,552 L527.5,625.75" fill="none" stroke="#000" stroke-width="1.4" stroke-linejoin="round"/>
<circle cx="507.5" cy="67.3" r="3.6" fill="#fff" stroke="#000" stroke-width="1.9"/>
<circle cx="528.1" cy="70" r="3.6" fill="#fff" stroke="#000" stroke-width="1.9"/>
<circle cx="487" cy="73.7" r="3.6" fill="#fff" stroke="#000" stroke-width="1.9"/>
<circle cx="482.5" cy="77.5" r="3.6" fill="#fff" stroke="#000" stroke-width="1.9"/>
<circle cx="533.6" cy="87.4" r="3.6" fill="#fff" stroke="#000" stroke-width="1.9"/>
<circle cx="503.6" cy="88.2" r="3.6" fill="#fff" stroke="#000" stroke-width="1.9"/>
<circle cx="511.1" cy="92.2" r="3.6" fill="#fff" stroke="#000" stroke-width="1.9"/>
<circle cx="502.5" cy="100" r="3.6" fill="#fff" stroke="#000" stroke-width="1.9"/>
<circle cx="454.5" cy="106.4" r="3.6" fill="#fff" stroke="#000" stroke-width="1.9"/>
<circle cx="504.3" cy="111.9" r="3.6" fill="#fff" stroke="#000" stroke-width="1.9"/>
<circle cx="513.8" cy="118.6" r="3.6" fill="#fff" stroke="#000" stroke-width="1.9"/>
<circle cx="485.4" cy="126.9" r="3.6" fill="#fff" stroke="#000" stroke-width="1.9"/>
<circle cx="499.6" cy="132.5" r="3.6" fill="#fff" stroke="#000" stroke-width="1.9"/>
<circle cx="516.7" cy="134.5" r="3.6" fill="#fff" stroke="#000" stroke-width="1.9"/>
<circle cx="519.4" cy="141.2" r="3.6" fill="#fff" stroke="#000" stroke-width="1.9"/>
<circle cx="483.8" cy="149.9" r="3.6" fill="#fff" stroke="#000" stroke-width="1.9"/>
<circle cx="534.4" cy="150.7" r="3.6" fill="#fff" stroke="#000" stroke-width="1.9"/>
<circle cx="493.3" cy="153.8" r="3.6" fill="#fff" stroke="#000" stroke-width="1.9"/>
<circle cx="510.7" cy="161.2" r="3.6" fill="#fff" stroke="#000" stroke-width="1.9"/>
<circle cx="499.6" cy="167.9" r="3.6" fill="#fff" stroke="#000" stroke-width="1.9"/>
<circle cx="504.3" cy="174.2" r="3.6" fill="#fff" stroke="#000" stroke-width="1.9"/>
<circle cx="522.5" cy="182.1" r="3.6" fill="#fff" stroke="#000" stroke-width="1.9"/>
<circle cx="499.6" cy="184.5" r="3.6" fill="#fff" stroke="#000" stroke-width="1.9"/>
<circle cx="510.4" cy="188.5" r="3.6" fill="#fff" stroke="#000" stroke-width="1.9"/>
<circle cx="460.9" cy="189.2" r="3.6" fill="#fff" stroke="#000" stroke-width="1.9"/>
<circle cx="501.2" cy="191.6" r="3.6" fill="#fff" stroke="#000" stroke-width="1.9"/>
<circle cx="521.7" cy="193.5" r="3.6" fill="#fff" stroke="#000" stroke-width="1.9"/>
<circle cx="406.3" cy="197.5" r="3.6" fill="#fff" stroke="#000" stroke-width="1.9"/>
<circle cx="505.1" cy="204.3" r="3.6" fill="#fff" stroke="#000" stroke-width="1.9"/>
<circle cx="468" cy="207.4" r="3.6" fill="#fff" stroke="#000" stroke-width="1.9"/>
<circle cx="496.4" cy="211.4" r="3.6" fill="#fff" stroke="#000" stroke-width="1.9"/>
<circle cx="464" cy="216.9" r="3.6" fill="#fff" stroke="#000" stroke-width="1.9"/>
<circle cx="444.7" cy="217.2" r="3.6" fill="#fff" stroke="#000" stroke-width="1.9"/>
<circle cx="516.2" cy="218.2" r="3.6" fill="#fff" stroke="#000" stroke-width="1.9"/>
<circle cx="461.7" cy="222.5" r="3.6" fill="#fff" stroke="#000" stroke-width="1.9"/>
<circle cx="532.5" cy="226.7" r="3.6" fill="#fff" stroke="#000" stroke-width="1.9"/>
<circle cx="451.4" cy="232.7" r="3.6" fill="#fff" stroke="#000" stroke-width="1.9"/>
<circle cx="509.1" cy="239.5" r="3.6" fill="#fff" stroke="#000" stroke-width="1.9"/>
<circle cx="452.6" cy="246.2" r="3.6" fill="#fff" stroke="#000" stroke-width="1.9"/>
<circle cx="535.7" cy="251.2" r="3.6" fill="#fff" stroke="#000" stroke-width="1.9"/>
<circle cx="506.7" cy="261.2" r="3.6" fill="#fff" stroke="#000" stroke-width="1.9"/>
<circle cx="502.5" cy="266" r="3.6" fill="#fff" stroke="#000" stroke-width="1.9"/>
<circle cx="550.2" cy="277.4" r="3.6" fill="#fff" stroke="#000" stroke-width="1.9"/>
<circle cx="538.8" cy="281.7" r="3.6" fill="#fff" stroke="#000" stroke-width="1.9"/>
<circle cx="456.1" cy="299.5" r="3.6" fill="#fff" stroke="#000" stroke-width="1.9"/>
<circle cx="497.7" cy="304.3" r="3.6" fill="#fff" stroke="#000" stroke-width="1.9"/>
<circle cx="462.5" cy="307.9" r="3.6" fill="#fff" stroke="#000" stroke-width="1.9"/>
<circle cx="454.1" cy="316.9" r="3.6" fill="#fff" stroke="#000" stroke-width="1.9"/>
<circle cx="504.3" cy="319.3" r="3.6" fill="#fff" stroke="#000" stroke-width="1.9"/>
<circle cx="532.5" cy="320.9" r="3.6" fill="#fff" stroke="#000" stroke-width="1.9"/>
<circle cx="469.6" cy="327.7" r="3.6" fill="#fff" stroke="#000" stroke-width="1.9"/>
<circle cx="513" cy="330" r="3.6" fill="#fff" stroke="#000" stroke-width="1.9"/>
<circle cx="475.1" cy="331.1" r="3.6" fill="#fff" stroke="#000" stroke-width="1.9"/>
<circle cx="504.3" cy="333.7" r="3.6" fill="#fff" stroke="#000" stroke-width="1.9"/>
<circle cx="458.5" cy="337.5" r="3.6" fill="#fff" stroke="#000" stroke-width="1.9"/>
<circle cx="521.7" cy="354.9" r="3.6" fill="#fff" stroke="#000" stroke-width="1.9"/>
<circle cx="549.4" cy="359.3" r="3.6" fill="#fff" stroke="#000" stroke-width="1.9"/>
<circle cx="554.1" cy="367.4" r="3.6" fill="#fff" stroke="#000" stroke-width="1.9"/>
<circle cx="511.4" cy="368.5" r="3.6" fill="#fff" stroke="#000" stroke-width="1.9"/>
<circle cx="554.9" cy="396" r="3.6" fill="#fff" stroke="#000" stroke-width="1.9"/>
<circle cx="547.8" cy="398.7" r="3.6" fill="#fff" stroke="#000" stroke-width="1.9"/>
<circle cx="558.8" cy="401.9" r="3.6" fill="#fff" stroke="#000" stroke-width="1.9"/>
<circle cx="480.3" cy="403.9" r="3.6" fill="#fff" stroke="#000" stroke-width="1.9"/>
<circle cx="482.2" cy="412.1" r="3.6" fill="#fff" stroke="#000" stroke-width="1.9"/>
<circle cx="458" cy="416.4" r="3.6" fill="#fff" stroke="#000" stroke-width="1.9"/>
<circle cx="523.6" cy="424" r="3.6" fill="#fff" stroke="#000" stroke-width="1.9"/>
<circle cx="460.8" cy="425.6" r="3.6" fill="#fff" stroke="#000" stroke-width="1.9"/>
<circle cx="437.1" cy="435.4" r="3.6" fill="#fff" stroke="#000" stroke-width="1.9"/>
<circle cx="503.5" cy="439.8" r="3.6" fill="#fff" stroke="#000" stroke-width="1.9"/>
<circle cx="518.5" cy="444.2" r="3.6" fill="#fff" stroke="#000" stroke-width="1.9"/>
<circle cx="488.9" cy="451.5" r="3.6" fill="#fff" stroke="#000" stroke-width="1.9"/>
<circle cx="521.9" cy="453.3" r="3.6" fill="#fff" stroke="#000" stroke-width="1.9"/>
<circle cx="514.5" cy="457.9" r="3.6" fill="#fff" stroke="#000" stroke-width="1.9"/>
<circle cx="495.4" cy="460" r="3.6" fill="#fff" stroke="#000" stroke-width="1.9"/>
<circle cx="506.1" cy="463.7" r="3.6" fill="#fff" stroke="#000" stroke-width="1.9"/>
<circle cx="491.9" cy="467.2" r="3.6" fill="#fff" stroke="#000" stroke-width="1.9"/>
<circle cx="498.3" cy="471" r="3.6" fill="#fff" stroke="#000" stroke-width="1.9"/>
<circle cx="525.7" cy="512.9" r="3.6" fill="#fff" stroke="#000" stroke-width="1.9"/>
<circle cx="517.6" cy="552" r="3.6" fill="#fff" stroke="#000" stroke-width="1.9"/>
<circle cx="527.5" cy="625.75" r="3.6" fill="#fff" stroke="#000" stroke-width="1.9"/>
<path d="M494.9,74.8 C496.47,75.45 501.67,77 504.3,78.7 C506.93,80.4 510.7,83.28 510.7,85 C510.7,86.72 506.42,87.67 504.3,89 C502.18,90.33 500.63,91.42 498,93 C495.37,94.58 490.47,96.4 488.5,98.5 C486.53,100.6 486.58,103.52 486.2,105.6 C485.82,107.68 484.5,109.43 486.2,111 C487.9,112.57 494.3,113.27 496.4,115 C498.5,116.73 498.53,119.28 498.8,121.4 C499.07,123.52 496.55,125.6 498,127.7 C499.45,129.8 505.92,131.75 507.5,134 C509.08,136.25 506.97,139.08 507.5,141.2 C508.03,143.32 510.45,145 510.7,146.7 C510.95,148.4 510.07,149.55 509,151.4 C507.93,153.25 505.33,155.7 504.3,157.8 C503.27,159.9 503.32,161.8 502.8,164 C502.28,166.2 502.52,168.77 501.2,171 C499.88,173.23 497.53,175.28 494.9,177.4 C492.27,179.52 488.83,181.33 485.4,183.7 C481.97,186.07 477.2,189.22 474.3,191.6 C471.4,193.98 468.78,195.63 468,198 C467.22,200.37 467.23,203.17 469.6,205.8 C471.97,208.43 477.98,211.68 482.2,213.8 C486.42,215.92 494.9,216.4 494.9,218.5 C494.9,220.6 483.27,224.03 482.2,226.4 C481.13,228.77 488.5,230.85 488.5,232.7 C488.5,234.55 481.13,235.38 482.2,237.5 C483.27,239.62 492.27,243.03 494.9,245.4 C497.53,247.77 495.37,249.87 498,251.7 C500.63,253.53 506.48,254.82 510.7,256.4 C514.92,257.98 520.4,259.27 523.3,261.2 C526.2,263.13 527.07,265.78 528.1,268 C529.13,270.22 530.18,272.78 529.5,274.5 C528.82,276.22 526.25,277.45 524,278.3 C521.75,279.15 518.25,278.72 516,279.6 C513.75,280.48 512.17,281.95 510.5,283.6 C508.83,285.25 508.08,287.12 506,289.5 C503.92,291.88 501.7,295.83 498,297.9 C494.3,299.97 488.28,300.83 483.8,301.9 C479.32,302.97 473.22,302.32 471.1,304.3 C468.98,306.28 468.98,311.43 471.1,313.8 C473.22,316.17 478.78,317.18 483.8,318.5 C488.82,319.82 498.83,320.12 501.2,321.7 C503.57,323.28 500.12,326.17 498,328 C495.88,329.83 489.02,331.38 488.5,332.7 C487.98,334.02 492.78,333.78 494.9,335.9 C497.02,338.02 498.57,342.23 501.2,345.4 C503.83,348.57 504.65,352.53 510.7,354.9 C516.75,357.27 531.95,357.92 537.5,359.6 C543.05,361.28 543.42,362.93 544,365 C544.58,367.07 541.82,369.83 541,372 C540.18,374.17 539.68,374.73 539.1,378 C538.52,381.27 537.77,388.15 537.5,391.6 C537.23,395.05 541.98,397.12 537.5,398.7 C533.02,400.28 519.3,400.05 510.6,401.1 C501.9,402.15 491.08,403.17 485.3,405 C479.52,406.83 475.63,410.12 475.9,412.1 C476.17,414.08 486.9,414.78 486.9,416.9 C486.9,419.02 479.32,422.43 475.9,424.8 C472.48,427.17 467.47,429.25 466.4,431.1 C465.33,432.95 465.82,434.58 469.5,435.9 C473.18,437.22 482.7,437.68 488.5,439 C494.3,440.32 500.88,441.68 504.3,443.8 C507.72,445.92 508.47,449.33 509,451.7 C509.53,454.07 508.08,455.93 507.5,458 C506.92,460.07 505.68,462.22 505.5,464.1 C505.32,465.98 505.53,464.7 506.4,469.3 C507.27,473.9 509.12,483.65 510.7,491.7 C512.28,499.75 513.75,507.55 515.9,517.6 C518.05,527.65 522.32,546.27 523.6,552" fill="none" stroke="#000" stroke-width="4.8" stroke-linejoin="round" stroke-linecap="butt"/>
<path d="M467,181 C466,175 472,174 475,176.5 C478,173 485,172.5 488,175.5 C491,173 497,172 500,175 L502.5,186 L503,193 C494,195.5 478,196 470,194.5 L467.5,189 Z" fill="#000"/>
<path d="M454,199.5 C462,197.5 478,197 492,198.5 C494,200 494,204 492.5,205.5 C482,206.5 465,205 456,202.5 Z" fill="#000"/>
<path d="M462,207 L492,205 M466,209.5 L491,207.5 M466,211 L490,209" stroke="#000" stroke-width="1.6"/>
<circle cx="473" cy="178" r="4.3" fill="#000"/>
<circle cx="484" cy="177" r="4.3" fill="#000"/>
<circle cx="494" cy="177" r="4.3" fill="#000"/>
<circle cx="476" cy="190" r="4.3" fill="#000"/>
<circle cx="490" cy="190" r="4.3" fill="#000"/>
<circle cx="499.6" cy="184.5" r="3.6" fill="#fff" stroke="#000" stroke-width="1.9"/>
<circle cx="501.2" cy="191.6" r="3.6" fill="#fff" stroke="#000" stroke-width="1.9"/>
<circle cx="468" cy="207.4" r="3.6" fill="#fff" stroke="#000" stroke-width="1.9"/>
<circle cx="510.4" cy="188.5" r="3.6" fill="#fff" stroke="#000" stroke-width="1.9"/>
<path d="M498,320.6 L532,320.6 M472,330.2 L507,331.5 M466,333 L500,333.6 M508,258 L527,262 M505,264 L526,266" stroke="#000" stroke-width="2.6" fill="none"/>
<path d="M488,74.5 L494.9,74.8" stroke="#000" stroke-width="4.8"/>
<path d="M673.4,87.1 L709.2,88.4 L697.1,114.7 L700.8,116 L706.4,117.5 L723.6,119.7 L731.3,120.7 L720,126.3 L728,134 L712,138 L730.7,145.9 L694.3,149.6 L711.1,152.4 L718,158 L733,160 L723.2,166.8 L741.9,171.1 L709.2,173 L751.2,178 L716,180 L744,183 L680.3,187.9 L705.5,188.4 L741.9,188.4 L726,189.3 L736.3,189.3 L724.2,197.2 L715.8,197.7 L697.1,206.1 L703.6,207.6 L667.2,215.5 L674.7,216.4 L685,219.8 L661.6,222 L667.2,226.3 L666.3,230.4 L649.5,232.7 L640.1,240.7 L666.3,250.6 L668.1,262.2 L701.8,263.1 L644.8,272.4 L644.8,276.7 L678,277.6 L654.3,319.9 L652.4,329.8 L582.4,336.7 L659.9,375 L651.5,391.8 L639.4,401.7 L674.8,418.8 L675.4,420.2 L672.8,431.1 L667.6,454.3 L632.7,505.6 L638.7,515.2 L674.1,525.5 L653.4,532 L636.6,537.2 L670.2,556.6 L636.6,569.5 L647.5,571.3" fill="none" stroke="#24c0c6" stroke-width="1.6" stroke-linejoin="round"/>
<circle cx="673.4" cy="87.1" r="3.5" fill="#fff" stroke="#24c0c6" stroke-width="1.8"/>
<circle cx="709.2" cy="88.4" r="3.5" fill="#fff" stroke="#24c0c6" stroke-width="1.8"/>
<circle cx="697.1" cy="114.7" r="3.5" fill="#fff" stroke="#24c0c6" stroke-width="1.8"/>
<circle cx="700.8" cy="116" r="3.5" fill="#fff" stroke="#24c0c6" stroke-width="1.8"/>
<circle cx="706.4" cy="117.5" r="3.5" fill="#fff" stroke="#24c0c6" stroke-width="1.8"/>
<circle cx="723.6" cy="119.7" r="3.5" fill="#fff" stroke="#24c0c6" stroke-width="1.8"/>
<circle cx="731.3" cy="120.7" r="3.5" fill="#fff" stroke="#24c0c6" stroke-width="1.8"/>
<circle cx="720" cy="126.3" r="3.5" fill="#fff" stroke="#24c0c6" stroke-width="1.8"/>
<circle cx="728" cy="134" r="3.5" fill="#fff" stroke="#24c0c6" stroke-width="1.8"/>
<circle cx="712" cy="138" r="3.5" fill="#fff" stroke="#24c0c6" stroke-width="1.8"/>
<circle cx="730.7" cy="145.9" r="3.5" fill="#fff" stroke="#24c0c6" stroke-width="1.8"/>
<circle cx="694.3" cy="149.6" r="3.5" fill="#fff" stroke="#24c0c6" stroke-width="1.8"/>
<circle cx="711.1" cy="152.4" r="3.5" fill="#fff" stroke="#24c0c6" stroke-width="1.8"/>
<circle cx="718" cy="158" r="3.5" fill="#fff" stroke="#24c0c6" stroke-width="1.8"/>
<circle cx="733" cy="160" r="3.5" fill="#fff" stroke="#24c0c6" stroke-width="1.8"/>
<circle cx="723.2" cy="166.8" r="3.5" fill="#fff" stroke="#24c0c6" stroke-width="1.8"/>
<circle cx="741.9" cy="171.1" r="3.5" fill="#fff" stroke="#24c0c6" stroke-width="1.8"/>
<circle cx="709.2" cy="173" r="3.5" fill="#fff" stroke="#24c0c6" stroke-width="1.8"/>
<circle cx="751.2" cy="178" r="3.5" fill="#fff" stroke="#24c0c6" stroke-width="1.8"/>
<circle cx="716" cy="180" r="3.5" fill="#fff" stroke="#24c0c6" stroke-width="1.8"/>
<circle cx="744" cy="183" r="3.5" fill="#fff" stroke="#24c0c6" stroke-width="1.8"/>
<circle cx="680.3" cy="187.9" r="3.5" fill="#fff" stroke="#24c0c6" stroke-width="1.8"/>
<circle cx="705.5" cy="188.4" r="3.5" fill="#fff" stroke="#24c0c6" stroke-width="1.8"/>
<circle cx="741.9" cy="188.4" r="3.5" fill="#fff" stroke="#24c0c6" stroke-width="1.8"/>
<circle cx="726" cy="189.3" r="3.5" fill="#fff" stroke="#24c0c6" stroke-width="1.8"/>
<circle cx="736.3" cy="189.3" r="3.5" fill="#fff" stroke="#24c0c6" stroke-width="1.8"/>
<circle cx="724.2" cy="197.2" r="3.5" fill="#fff" stroke="#24c0c6" stroke-width="1.8"/>
<circle cx="715.8" cy="197.7" r="3.5" fill="#fff" stroke="#24c0c6" stroke-width="1.8"/>
<circle cx="697.1" cy="206.1" r="3.5" fill="#fff" stroke="#24c0c6" stroke-width="1.8"/>
<circle cx="703.6" cy="207.6" r="3.5" fill="#fff" stroke="#24c0c6" stroke-width="1.8"/>
<circle cx="667.2" cy="215.5" r="3.5" fill="#fff" stroke="#24c0c6" stroke-width="1.8"/>
<circle cx="674.7" cy="216.4" r="3.5" fill="#fff" stroke="#24c0c6" stroke-width="1.8"/>
<circle cx="685" cy="219.8" r="3.5" fill="#fff" stroke="#24c0c6" stroke-width="1.8"/>
<circle cx="661.6" cy="222" r="3.5" fill="#fff" stroke="#24c0c6" stroke-width="1.8"/>
<circle cx="667.2" cy="226.3" r="3.5" fill="#fff" stroke="#24c0c6" stroke-width="1.8"/>
<circle cx="666.3" cy="230.4" r="3.5" fill="#fff" stroke="#24c0c6" stroke-width="1.8"/>
<circle cx="649.5" cy="232.7" r="3.5" fill="#fff" stroke="#24c0c6" stroke-width="1.8"/>
<circle cx="640.1" cy="240.7" r="3.5" fill="#fff" stroke="#24c0c6" stroke-width="1.8"/>
<circle cx="666.3" cy="250.6" r="3.5" fill="#fff" stroke="#24c0c6" stroke-width="1.8"/>
<circle cx="668.1" cy="262.2" r="3.5" fill="#fff" stroke="#24c0c6" stroke-width="1.8"/>
<circle cx="701.8" cy="263.1" r="3.5" fill="#fff" stroke="#24c0c6" stroke-width="1.8"/>
<circle cx="644.8" cy="272.4" r="3.5" fill="#fff" stroke="#24c0c6" stroke-width="1.8"/>
<circle cx="644.8" cy="276.7" r="3.5" fill="#fff" stroke="#24c0c6" stroke-width="1.8"/>
<circle cx="678" cy="277.6" r="3.5" fill="#fff" stroke="#24c0c6" stroke-width="1.8"/>
<circle cx="654.3" cy="319.9" r="3.5" fill="#fff" stroke="#24c0c6" stroke-width="1.8"/>
<circle cx="652.4" cy="329.8" r="3.5" fill="#fff" stroke="#24c0c6" stroke-width="1.8"/>
<circle cx="582.4" cy="336.7" r="3.5" fill="#fff" stroke="#24c0c6" stroke-width="1.8"/>
<circle cx="659.9" cy="375" r="3.5" fill="#fff" stroke="#24c0c6" stroke-width="1.8"/>
<circle cx="651.5" cy="391.8" r="3.5" fill="#fff" stroke="#24c0c6" stroke-width="1.8"/>
<circle cx="639.4" cy="401.7" r="3.5" fill="#fff" stroke="#24c0c6" stroke-width="1.8"/>
<circle cx="674.8" cy="418.8" r="3.5" fill="#fff" stroke="#24c0c6" stroke-width="1.8"/>
<circle cx="675.4" cy="420.2" r="3.5" fill="#fff" stroke="#24c0c6" stroke-width="1.8"/>
<circle cx="672.8" cy="431.1" r="3.5" fill="#fff" stroke="#24c0c6" stroke-width="1.8"/>
<circle cx="667.6" cy="454.3" r="3.5" fill="#fff" stroke="#24c0c6" stroke-width="1.8"/>
<circle cx="632.7" cy="505.6" r="3.5" fill="#fff" stroke="#24c0c6" stroke-width="1.8"/>
<circle cx="638.7" cy="515.2" r="3.5" fill="#fff" stroke="#24c0c6" stroke-width="1.8"/>
<circle cx="674.1" cy="525.5" r="3.5" fill="#fff" stroke="#24c0c6" stroke-width="1.8"/>
<circle cx="653.4" cy="532" r="3.5" fill="#fff" stroke="#24c0c6" stroke-width="1.8"/>
<circle cx="636.6" cy="537.2" r="3.5" fill="#fff" stroke="#24c0c6" stroke-width="1.8"/>
<circle cx="670.2" cy="556.6" r="3.5" fill="#fff" stroke="#24c0c6" stroke-width="1.8"/>
<circle cx="636.6" cy="569.5" r="3.5" fill="#fff" stroke="#24c0c6" stroke-width="1.8"/>
<circle cx="647.5" cy="571.3" r="3.5" fill="#fff" stroke="#24c0c6" stroke-width="1.8"/>
<path d="M691.7,79.9 C692.85,81.05 697.45,83.73 698.6,86.8 C699.75,89.87 696.87,95.82 698.6,98.3 C700.33,100.78 705.17,100.55 709,101.7 C712.83,102.85 719.88,103.85 721.6,105.2 C723.32,106.55 720.25,107.5 719.3,109.8 C718.35,112.1 717.62,116.32 715.9,119 C714.18,121.68 710.15,123.22 709,125.9 C707.85,128.58 707.28,132.42 709,135.1 C710.72,137.78 716.23,140.08 719.3,142 C722.37,143.92 727.95,144.6 727.4,146.6 C726.85,148.6 714.47,152.28 716,154 C717.53,155.72 736.62,155.47 736.6,156.9 C736.58,158.33 715.9,160.88 715.9,162.6 C715.9,164.32 737.75,165.28 736.6,167.2 C735.45,169.12 709.38,172.57 709,174.1 C708.62,175.63 732.77,175.05 734.3,176.4 C735.83,177.75 724.33,179.9 718.2,182.2 C712.07,184.5 703.2,187.45 697.5,190.2 C691.8,192.95 687.8,196.35 684,198.7 C680.2,201.05 677.18,202.28 674.7,204.3 C672.22,206.32 672.22,208.63 669.1,210.8 C665.98,212.97 659.27,214.97 656,217.3 C652.73,219.63 649.82,222 649.5,224.8 C649.18,227.6 651.15,231.3 654.1,234.1 C657.05,236.9 663.15,238.8 667.2,241.6 C671.25,244.4 678.4,248.72 678.4,250.9 C678.4,253.08 671.72,253.13 667.2,254.7 C662.68,256.27 653.32,258.12 651.3,260.3 C649.28,262.48 654,264.38 655.1,267.8 C656.2,271.22 656.82,276.45 657.9,280.8 C658.98,285.15 662.53,290.47 661.6,293.9 C660.67,297.33 654.92,299.25 652.3,301.4 C649.68,303.55 649.45,304.35 645.9,306.8 C642.35,309.25 634.27,312.68 631,316.1 C627.73,319.52 626.47,322.93 626.3,327.3 C626.13,331.67 629.38,337 630,342.3 C630.62,347.6 628.6,354.43 630,359.1 C631.4,363.77 635.13,366.25 638.4,370.3 C641.67,374.35 647.1,379.35 649.6,383.4 C652.1,387.45 651.53,390.25 653.4,394.6 C655.27,398.95 658,404.72 660.8,409.5 C663.6,414.28 669.5,418.42 670.2,423.3 C670.9,428.18 668.02,432.33 665,438.8 C661.98,445.27 655.33,454.33 652.1,462.1 C648.87,469.87 646.03,477.2 645.6,485.4 C645.17,493.6 647.98,504.83 649.5,511.3 C651.02,517.77 654.48,519.45 654.7,524.2 C654.92,528.95 652.1,535.05 650.8,539.8 C649.5,544.55 647.03,548.83 646.9,552.7 C646.77,556.57 649.48,561.28 650,563" fill="none" stroke="#24c0c6" stroke-width="4.6" stroke-linejoin="round" stroke-linecap="butt"/>
<path d="M812.4,86.7 L855.4,88.3 L861.6,116 L874.5,121.2 L886.2,146.5 L872.5,153 L872,173.7 L831.8,183.2 L837,189 L860.3,197.5 L823.3,202.7 L900.3,211.6 L765.5,261 L800.7,263.3 L729.8,337" fill="none" stroke="#faab1d" stroke-width="1.4" stroke-linejoin="round"/>
<circle cx="812.4" cy="86.7" r="3.4" fill="#fff" stroke="#faab1d" stroke-width="1.6"/>
<circle cx="855.4" cy="88.3" r="3.4" fill="#fff" stroke="#faab1d" stroke-width="1.6"/>
<circle cx="861.6" cy="116" r="3.4" fill="#fff" stroke="#faab1d" stroke-width="1.6"/>
<circle cx="874.5" cy="121.2" r="3.4" fill="#fff" stroke="#faab1d" stroke-width="1.6"/>
<circle cx="886.2" cy="146.5" r="3.4" fill="#fff" stroke="#faab1d" stroke-width="1.6"/>
<circle cx="872.5" cy="153" r="3.4" fill="#fff" stroke="#faab1d" stroke-width="1.6"/>
<circle cx="872" cy="173.7" r="3.4" fill="#fff" stroke="#faab1d" stroke-width="1.6"/>
<circle cx="831.8" cy="183.2" r="3.4" fill="#fff" stroke="#faab1d" stroke-width="1.6"/>
<circle cx="837" cy="189" r="3.4" fill="#fff" stroke="#faab1d" stroke-width="1.6"/>
<circle cx="860.3" cy="197.5" r="3.4" fill="#fff" stroke="#faab1d" stroke-width="1.6"/>
<circle cx="823.3" cy="202.7" r="3.4" fill="#fff" stroke="#faab1d" stroke-width="1.6"/>
<circle cx="900.3" cy="211.6" r="3.4" fill="#fff" stroke="#faab1d" stroke-width="1.6"/>
<circle cx="765.5" cy="261" r="3.4" fill="#fff" stroke="#faab1d" stroke-width="1.6"/>
<circle cx="800.7" cy="263.3" r="3.4" fill="#fff" stroke="#faab1d" stroke-width="1.6"/>
<circle cx="729.8" cy="337" r="3.4" fill="#fff" stroke="#faab1d" stroke-width="1.6"/>
<path d="M843.5,97.3 C846.52,98.9 856.85,103.13 861.6,106.9 C866.35,110.67 869.2,114.72 872,119.9 C874.8,125.08 877.55,131.97 878.4,138 C879.25,144.03 879.47,151.37 877.1,156.1 C874.73,160.83 868.93,162.52 864.2,166.4 C859.47,170.28 852.37,174.65 848.7,179.4 C845.03,184.15 840.48,191.02 842.2,194.9 C843.92,198.78 856.63,199.9 859,202.7 C861.37,205.5 859.85,208.25 856.4,211.7 C852.95,215.15 843.03,220.02 838.3,223.4 C833.57,226.78 830.48,228.57 828,232 C825.52,235.43 827.18,239 823.4,244 C819.62,249 814.78,254.68 805.3,262 C795.82,269.32 772.97,283.58 766.5,287.9" fill="none" stroke="#faab1d" stroke-width="4.6" stroke-linejoin="round" stroke-linecap="butt"/>
<path d="M898.3,63.5 L893.2,117.3 L972.9,134.1 L900.4,154 L813.2,190.5 L863.7,206.5 L966.8,221.9 L769.1,240.1 L833.2,250.4 L890.6,303.9 L853.9,309.4 L816.4,319.4 L896.3,327.2 L941.3,367 L850.7,397.6 L909.7,424.7 L907.9,453.1" fill="none" stroke="#d8323c" stroke-width="1.4" stroke-linejoin="round"/>
<rect x="894.7" y="59.9" width="7.2" height="7.2" fill="#fff" stroke="#d8323c" stroke-width="1.5"/>
<rect x="889.6" y="113.7" width="7.2" height="7.2" fill="#fff" stroke="#d8323c" stroke-width="1.5"/>
<rect x="969.3" y="130.5" width="7.2" height="7.2" fill="#fff" stroke="#d8323c" stroke-width="1.5"/>
<rect x="896.8" y="150.4" width="7.2" height="7.2" fill="#fff" stroke="#d8323c" stroke-width="1.5"/>
<rect x="809.6" y="186.9" width="7.2" height="7.2" fill="#fff" stroke="#d8323c" stroke-width="1.5"/>
<rect x="860.1" y="202.9" width="7.2" height="7.2" fill="#fff" stroke="#d8323c" stroke-width="1.5"/>
<rect x="963.2" y="218.3" width="7.2" height="7.2" fill="#fff" stroke="#d8323c" stroke-width="1.5"/>
<rect x="765.5" y="236.5" width="7.2" height="7.2" fill="#fff" stroke="#d8323c" stroke-width="1.5"/>
<rect x="829.6" y="246.8" width="7.2" height="7.2" fill="#fff" stroke="#d8323c" stroke-width="1.5"/>
<rect x="887" y="300.3" width="7.2" height="7.2" fill="#fff" stroke="#d8323c" stroke-width="1.5"/>
<rect x="850.3" y="305.8" width="7.2" height="7.2" fill="#fff" stroke="#d8323c" stroke-width="1.5"/>
<rect x="812.8" y="315.8" width="7.2" height="7.2" fill="#fff" stroke="#d8323c" stroke-width="1.5"/>
<rect x="892.7" y="323.6" width="7.2" height="7.2" fill="#fff" stroke="#d8323c" stroke-width="1.5"/>
<rect x="937.7" y="363.4" width="7.2" height="7.2" fill="#fff" stroke="#d8323c" stroke-width="1.5"/>
<rect x="847.1" y="394" width="7.2" height="7.2" fill="#fff" stroke="#d8323c" stroke-width="1.5"/>
<rect x="906.1" y="421.1" width="7.2" height="7.2" fill="#fff" stroke="#d8323c" stroke-width="1.5"/>
<rect x="904.3" y="449.5" width="7.2" height="7.2" fill="#fff" stroke="#d8323c" stroke-width="1.5"/>
<path d="M921.9,106.4 C922.2,109.5 924.7,118.88 923.7,125 C922.7,131.12 920.65,137.48 915.9,143.1 C911.15,148.72 903.82,153.52 895.2,158.7 C886.58,163.88 870.45,169.47 864.2,174.2 C857.95,178.93 855.98,182.78 857.7,187.1 C859.42,191.42 870.83,196.43 874.5,200.1 C878.17,203.77 880.55,205.65 879.7,209.1 C878.85,212.55 872.42,217.32 869.4,220.8 C866.38,224.28 866.25,225.72 861.6,230 C856.95,234.28 846.57,241.17 841.5,246.5 C836.43,251.83 831.2,256.82 831.2,262 C831.2,267.18 836.77,272.85 841.5,277.6 C846.23,282.35 857.45,284.9 859.6,290.5 C861.75,296.1 854.4,305.6 854.4,311.2 C854.4,316.8 854.85,319.8 859.6,324.1 C864.35,328.4 877.3,331.83 882.9,337 C888.5,342.17 890.47,348.4 893.2,355.1 C895.93,361.8 897.85,370.63 899.3,377.2 C900.75,383.77 902.47,388.75 901.9,394.5 C901.33,400.25 897.92,406.58 895.9,411.7 C893.88,416.82 890.82,422.95 889.8,425.2" fill="none" stroke="#d8323c" stroke-width="4.6" stroke-linejoin="round" stroke-linecap="butt"/>
<path d="M1094.4,88 L1063.4,89.2 L1043.5,115.9 L1066,117.7 L1059.5,119 L1047.9,128.6 L1045.3,135.3 L1058.7,146.7 L1149.3,151.8 L1092.6,153.4 L1051.7,154.4 L1072.4,161.7 L1075,163.5 L1052.9,167.4 L1134.5,168.5 L1086.2,169.7 L1119.5,171 L1073.1,174.5 L1095.4,177.2 L1204.6,179.5 L1212,181.1 L1185,184.8 L1178.2,184.8 L1167.8,186.4 L1152.9,188.7 L1067.8,188.7 L1058.6,189.4 L1050.6,189.9 L1097.7,189.9 L1036.8,197.9 L1047.1,199.1 L1047.1,207.8 L1036.8,208.3 L1039.1,216.3 L1029.9,223.7 L1041.4,229 L1041.4,241.6 L1074,251.5 L1032.9,261.1 L1129.9,264.1 L1036.8,264.6 L1032.6,277.7 L1043,281.4 L1064.4,319.4 L1038.3,320.7 L1070.1,331 L1025.3,367.8 L1109.7,375.2 L1044.8,380.5 L1040.7,393.8 L1052.4,403.4 L1080.9,412 L1063.7,421.8 L1076.6,431.5 L1068.5,444.8 L1049.4,452.9 L1077,454.5 L1047.1,477.9 L1052.9,481.4 L1036.8,505.5 L1036.8,515.9 L1039.5,526.2 L1039.1,533.1 L1034.5,537.7 L1037.2,557.7 L1039.5,571 L1050.1,571.7" fill="none" stroke="#0c79d3" stroke-width="1.45" stroke-linejoin="round"/>
<circle cx="1094.4" cy="88" r="3.4" fill="#fff" stroke="#0c79d3" stroke-width="1.6"/>
<circle cx="1063.4" cy="89.2" r="3.4" fill="#fff" stroke="#0c79d3" stroke-width="1.6"/>
<circle cx="1043.5" cy="115.9" r="3.4" fill="#fff" stroke="#0c79d3" stroke-width="1.6"/>
<circle cx="1066" cy="117.7" r="3.4" fill="#fff" stroke="#0c79d3" stroke-width="1.6"/>
<circle cx="1059.5" cy="119" r="3.4" fill="#fff" stroke="#0c79d3" stroke-width="1.6"/>
<circle cx="1047.9" cy="128.6" r="3.4" fill="#fff" stroke="#0c79d3" stroke-width="1.6"/>
<circle cx="1045.3" cy="135.3" r="3.4" fill="#fff" stroke="#0c79d3" stroke-width="1.6"/>
<circle cx="1058.7" cy="146.7" r="3.4" fill="#fff" stroke="#0c79d3" stroke-width="1.6"/>
<circle cx="1149.3" cy="151.8" r="3.4" fill="#fff" stroke="#0c79d3" stroke-width="1.6"/>
<circle cx="1092.6" cy="153.4" r="3.4" fill="#fff" stroke="#0c79d3" stroke-width="1.6"/>
<circle cx="1051.7" cy="154.4" r="3.4" fill="#fff" stroke="#0c79d3" stroke-width="1.6"/>
<circle cx="1072.4" cy="161.7" r="3.4" fill="#fff" stroke="#0c79d3" stroke-width="1.6"/>
<circle cx="1075" cy="163.5" r="3.4" fill="#fff" stroke="#0c79d3" stroke-width="1.6"/>
<circle cx="1052.9" cy="167.4" r="3.4" fill="#fff" stroke="#0c79d3" stroke-width="1.6"/>
<circle cx="1134.5" cy="168.5" r="3.4" fill="#fff" stroke="#0c79d3" stroke-width="1.6"/>
<circle cx="1086.2" cy="169.7" r="3.4" fill="#fff" stroke="#0c79d3" stroke-width="1.6"/>
<circle cx="1119.5" cy="171" r="3.4" fill="#fff" stroke="#0c79d3" stroke-width="1.6"/>
<circle cx="1073.1" cy="174.5" r="3.4" fill="#fff" stroke="#0c79d3" stroke-width="1.6"/>
<circle cx="1095.4" cy="177.2" r="3.4" fill="#fff" stroke="#0c79d3" stroke-width="1.6"/>
<circle cx="1204.6" cy="179.5" r="3.4" fill="#fff" stroke="#0c79d3" stroke-width="1.6"/>
<circle cx="1212" cy="181.1" r="3.4" fill="#fff" stroke="#0c79d3" stroke-width="1.6"/>
<circle cx="1185" cy="184.8" r="3.4" fill="#fff" stroke="#0c79d3" stroke-width="1.6"/>
<circle cx="1178.2" cy="184.8" r="3.4" fill="#fff" stroke="#0c79d3" stroke-width="1.6"/>
<circle cx="1167.8" cy="186.4" r="3.4" fill="#fff" stroke="#0c79d3" stroke-width="1.6"/>
<circle cx="1152.9" cy="188.7" r="3.4" fill="#fff" stroke="#0c79d3" stroke-width="1.6"/>
<circle cx="1067.8" cy="188.7" r="3.4" fill="#fff" stroke="#0c79d3" stroke-width="1.6"/>
<circle cx="1058.6" cy="189.4" r="3.4" fill="#fff" stroke="#0c79d3" stroke-width="1.6"/>
<circle cx="1050.6" cy="189.9" r="3.4" fill="#fff" stroke="#0c79d3" stroke-width="1.6"/>
<circle cx="1097.7" cy="189.9" r="3.4" fill="#fff" stroke="#0c79d3" stroke-width="1.6"/>
<circle cx="1036.8" cy="197.9" r="3.4" fill="#fff" stroke="#0c79d3" stroke-width="1.6"/>
<circle cx="1047.1" cy="199.1" r="3.4" fill="#fff" stroke="#0c79d3" stroke-width="1.6"/>
<circle cx="1047.1" cy="207.8" r="3.4" fill="#fff" stroke="#0c79d3" stroke-width="1.6"/>
<circle cx="1036.8" cy="208.3" r="3.4" fill="#fff" stroke="#0c79d3" stroke-width="1.6"/>
<circle cx="1039.1" cy="216.3" r="3.4" fill="#fff" stroke="#0c79d3" stroke-width="1.6"/>
<circle cx="1029.9" cy="223.7" r="3.4" fill="#fff" stroke="#0c79d3" stroke-width="1.6"/>
<circle cx="1041.4" cy="229" r="3.4" fill="#fff" stroke="#0c79d3" stroke-width="1.6"/>
<circle cx="1041.4" cy="241.6" r="3.4" fill="#fff" stroke="#0c79d3" stroke-width="1.6"/>
<circle cx="1074" cy="251.5" r="3.4" fill="#fff" stroke="#0c79d3" stroke-width="1.6"/>
<circle cx="1032.9" cy="261.1" r="3.4" fill="#fff" stroke="#0c79d3" stroke-width="1.6"/>
<circle cx="1129.9" cy="264.1" r="3.4" fill="#fff" stroke="#0c79d3" stroke-width="1.6"/>
<circle cx="1036.8" cy="264.6" r="3.4" fill="#fff" stroke="#0c79d3" stroke-width="1.6"/>
<circle cx="1032.6" cy="277.7" r="3.4" fill="#fff" stroke="#0c79d3" stroke-width="1.6"/>
<circle cx="1043" cy="281.4" r="3.4" fill="#fff" stroke="#0c79d3" stroke-width="1.6"/>
<circle cx="1064.4" cy="319.4" r="3.4" fill="#fff" stroke="#0c79d3" stroke-width="1.6"/>
<circle cx="1038.3" cy="320.7" r="3.4" fill="#fff" stroke="#0c79d3" stroke-width="1.6"/>
<circle cx="1070.1" cy="331" r="3.4" fill="#fff" stroke="#0c79d3" stroke-width="1.6"/>
<circle cx="1025.3" cy="367.8" r="3.4" fill="#fff" stroke="#0c79d3" stroke-width="1.6"/>
<circle cx="1109.7" cy="375.2" r="3.4" fill="#fff" stroke="#0c79d3" stroke-width="1.6"/>
<circle cx="1044.8" cy="380.5" r="3.4" fill="#fff" stroke="#0c79d3" stroke-width="1.6"/>
<circle cx="1040.7" cy="393.8" r="3.4" fill="#fff" stroke="#0c79d3" stroke-width="1.6"/>
<circle cx="1052.4" cy="403.4" r="3.4" fill="#fff" stroke="#0c79d3" stroke-width="1.6"/>
<circle cx="1080.9" cy="412" r="3.4" fill="#fff" stroke="#0c79d3" stroke-width="1.6"/>
<circle cx="1063.7" cy="421.8" r="3.4" fill="#fff" stroke="#0c79d3" stroke-width="1.6"/>
<circle cx="1076.6" cy="431.5" r="3.4" fill="#fff" stroke="#0c79d3" stroke-width="1.6"/>
<circle cx="1068.5" cy="444.8" r="3.4" fill="#fff" stroke="#0c79d3" stroke-width="1.6"/>
<circle cx="1049.4" cy="452.9" r="3.4" fill="#fff" stroke="#0c79d3" stroke-width="1.6"/>
<circle cx="1077" cy="454.5" r="3.4" fill="#fff" stroke="#0c79d3" stroke-width="1.6"/>
<circle cx="1047.1" cy="477.9" r="3.4" fill="#fff" stroke="#0c79d3" stroke-width="1.6"/>
<circle cx="1052.9" cy="481.4" r="3.4" fill="#fff" stroke="#0c79d3" stroke-width="1.6"/>
<circle cx="1036.8" cy="505.5" r="3.4" fill="#fff" stroke="#0c79d3" stroke-width="1.6"/>
<circle cx="1036.8" cy="515.9" r="3.4" fill="#fff" stroke="#0c79d3" stroke-width="1.6"/>
<circle cx="1039.5" cy="526.2" r="3.4" fill="#fff" stroke="#0c79d3" stroke-width="1.6"/>
<circle cx="1039.1" cy="533.1" r="3.4" fill="#fff" stroke="#0c79d3" stroke-width="1.6"/>
<circle cx="1034.5" cy="537.7" r="3.4" fill="#fff" stroke="#0c79d3" stroke-width="1.6"/>
<circle cx="1037.2" cy="557.7" r="3.4" fill="#fff" stroke="#0c79d3" stroke-width="1.6"/>
<circle cx="1039.5" cy="571" r="3.4" fill="#fff" stroke="#0c79d3" stroke-width="1.6"/>
<circle cx="1050.1" cy="571.7" r="3.4" fill="#fff" stroke="#0c79d3" stroke-width="1.6"/>
<path d="M1066,89.2 C1065.33,91.58 1063.3,99.4 1062,103.5 C1060.7,107.6 1059.92,111.22 1058.2,113.8 C1056.48,116.38 1053.63,117.27 1051.7,119 C1049.77,120.73 1047.23,121.62 1046.6,124.2 C1045.97,126.78 1044.03,131.48 1047.9,134.5 C1051.77,137.52 1061.83,139.72 1069.8,142.3 C1077.77,144.88 1091.82,148.05 1095.7,150 C1099.58,151.95 1097.42,153.13 1093.1,154 C1088.78,154.87 1074.32,153.78 1069.8,155.2 C1065.28,156.62 1064.7,160.45 1066,162.5 C1067.3,164.55 1072.77,166.25 1077.6,167.5 C1082.43,168.75 1088.77,168.95 1095,170 C1101.23,171.05 1104,172.6 1115,173.8 C1126,175 1146.45,176.05 1161,177.2 C1175.55,178.35 1198.48,179.55 1202.3,180.7 C1206.12,181.85 1198.45,182.95 1183.9,184.1 C1169.35,185.25 1134.15,186.9 1115,187.6 C1095.85,188.3 1080.88,187.92 1069,188.3 C1057.12,188.68 1048.3,186.95 1043.7,189.9 C1039.1,192.85 1042.37,201.02 1041.4,206 C1040.43,210.98 1037.72,215.2 1037.9,219.8 C1038.08,224.4 1040,229.97 1042.5,233.6 C1045,237.23 1051.93,238.92 1052.9,241.6 C1053.87,244.28 1044.08,246.25 1048.3,249.7 C1052.52,253.15 1079.93,258.28 1078.2,262.3 C1076.47,266.32 1042.88,271.32 1037.9,273.8 C1032.92,276.28 1046.38,273.18 1048.3,277.2 C1050.22,281.22 1049.4,290.65 1049.4,297.9 C1049.4,305.15 1049.07,315.75 1048.3,320.7 C1047.53,325.65 1044.03,323.38 1044.8,327.6 C1045.57,331.82 1049.07,339.48 1052.9,346 C1056.73,352.52 1066.65,361.72 1067.8,366.7 C1068.95,371.68 1060.37,373.8 1059.8,375.9 C1059.23,378 1066.7,376.62 1064.4,379.3 C1062.1,381.98 1048.68,388.73 1046,392 C1043.32,395.27 1046,397.18 1048.3,398.9 C1050.6,400.62 1055.97,399.25 1059.8,402.3 C1063.63,405.35 1070.15,411.27 1071.3,417.2 C1072.45,423.13 1067.85,432.15 1066.7,437.9 C1065.55,443.65 1065.93,449.05 1064.4,451.7 C1062.87,454.35 1058.85,450 1057.5,453.8 C1056.15,457.6 1057.83,470.48 1056.3,474.5 C1054.77,478.52 1050.4,474.83 1048.3,477.9 C1046.2,480.97 1045.23,487.72 1043.7,492.9 C1042.17,498.08 1040.25,502.48 1039.1,509 C1037.95,515.52 1037.12,524.33 1036.8,532 C1036.48,539.67 1036.43,548.88 1037.2,555 C1037.97,561.12 1040.7,566.42 1041.4,568.7" fill="none" stroke="#0c79d3" stroke-width="4.6" stroke-linejoin="round" stroke-linecap="butt"/>
<path d="M1234.4,89.5 L1229.7,117.4 L1238,118.9 L1274.5,134.5 L1227.9,152.3 L1295.7,155.7 L1240.1,173.2 L1238.8,182.8 L1234.4,189.3 L1223.3,191.9 L1224.6,207.4 L1221.2,223.6 L1453,239.4 L1249.1,250.4 L1224.6,262.1 L1225.9,277.1 L1234.9,319.5 L1241.4,329.8 L1222.2,367.9 L1238.8,398.7 L1243.8,453.6" fill="none" stroke="#0c79d3" stroke-width="1.45" stroke-linejoin="round"/>
<circle cx="1234.4" cy="89.5" r="3.4" fill="#fff" stroke="#0c79d3" stroke-width="1.6"/>
<circle cx="1229.7" cy="117.4" r="3.4" fill="#fff" stroke="#0c79d3" stroke-width="1.6"/>
<circle cx="1238" cy="118.9" r="3.4" fill="#fff" stroke="#0c79d3" stroke-width="1.6"/>
<circle cx="1274.5" cy="134.5" r="3.4" fill="#fff" stroke="#0c79d3" stroke-width="1.6"/>
<circle cx="1227.9" cy="152.3" r="3.4" fill="#fff" stroke="#0c79d3" stroke-width="1.6"/>
<circle cx="1295.7" cy="155.7" r="3.4" fill="#fff" stroke="#0c79d3" stroke-width="1.6"/>
<circle cx="1240.1" cy="173.2" r="3.4" fill="#fff" stroke="#0c79d3" stroke-width="1.6"/>
<circle cx="1238.8" cy="182.8" r="3.4" fill="#fff" stroke="#0c79d3" stroke-width="1.6"/>
<circle cx="1234.4" cy="189.3" r="3.4" fill="#fff" stroke="#0c79d3" stroke-width="1.6"/>
<circle cx="1223.3" cy="191.9" r="3.4" fill="#fff" stroke="#0c79d3" stroke-width="1.6"/>
<circle cx="1224.6" cy="207.4" r="3.4" fill="#fff" stroke="#0c79d3" stroke-width="1.6"/>
<circle cx="1221.2" cy="223.6" r="3.4" fill="#fff" stroke="#0c79d3" stroke-width="1.6"/>
<circle cx="1453" cy="239.4" r="3.4" fill="#fff" stroke="#dcebf8" stroke-width="1.6"/>
<circle cx="1249.1" cy="250.4" r="3.4" fill="#fff" stroke="#0c79d3" stroke-width="1.6"/>
<circle cx="1224.6" cy="262.1" r="3.4" fill="#fff" stroke="#0c79d3" stroke-width="1.6"/>
<circle cx="1225.9" cy="277.1" r="3.4" fill="#fff" stroke="#0c79d3" stroke-width="1.6"/>
<circle cx="1234.9" cy="319.5" r="3.4" fill="#fff" stroke="#0c79d3" stroke-width="1.6"/>
<circle cx="1241.4" cy="329.8" r="3.4" fill="#fff" stroke="#0c79d3" stroke-width="1.6"/>
<circle cx="1222.2" cy="367.9" r="3.4" fill="#fff" stroke="#0c79d3" stroke-width="1.6"/>
<circle cx="1238.8" cy="398.7" r="3.4" fill="#fff" stroke="#0c79d3" stroke-width="1.6"/>
<circle cx="1243.8" cy="453.6" r="3.4" fill="#fff" stroke="#0c79d3" stroke-width="1.6"/>
<path d="M1238.8,118.2 C1240.3,118.63 1246.52,118.43 1247.8,120.8 C1249.08,123.17 1245.42,128.75 1246.5,132.4 C1247.58,136.05 1251.07,139.03 1254.3,142.7 C1257.53,146.37 1265.68,152.02 1265.9,154.4 C1266.12,156.78 1256.67,154.2 1255.6,157 C1254.53,159.8 1260.15,167.12 1259.5,171.2 C1258.85,175.28 1255.58,178.48 1251.7,181.5 C1247.82,184.52 1240.72,186.28 1236.2,189.3 C1231.68,192.32 1226.53,196.37 1224.6,199.6 C1222.67,202.83 1220.08,206.12 1224.6,208.7 C1229.12,211.28 1240.72,212.73 1251.7,215.1 C1262.68,217.47 1281.88,220.75 1290.5,222.9 C1299.12,225.05 1300.38,224.48 1303.4,228 C1306.42,231.52 1307.73,240.05 1308.6,244 C1309.47,247.95 1313.77,249.55 1308.6,251.7 C1303.43,253.85 1291.38,254.95 1277.6,256.9 C1263.82,258.85 1233.88,259.95 1225.9,263.4 C1217.92,266.85 1228.63,270.93 1229.7,277.6 C1230.77,284.27 1231.43,296.5 1232.3,303.4 C1233.17,310.3 1234.53,312.63 1234.9,319 C1235.27,325.37 1234.38,328.5 1234.5,341.6 C1234.62,354.7 1235.42,388.27 1235.6,397.6" fill="none" stroke="#0c79d3" stroke-width="4.6" stroke-linejoin="round" stroke-linecap="butt"/>
<path d="M1465.3,89.5 L1476.2,117.1 L1491.2,119 L1459.6,135.2 L1474.9,154.1 L1590.9,156.2 L1520.2,174.6 L1633.8,184.6 L1541.5,189.2 L1445.3,191.8 L1437.5,207.3 L1434.4,224.6 L1504.7,240.7 L1456.9,251 L1417.6,263.4 L1415.5,278.2 L1442.7,321.6 L1449.9,330.7 L1413.9,367.9 L1450.8,399.7 L1491.2,453.2" fill="none" stroke="#0c79d3" stroke-width="1.45" stroke-linejoin="round"/>
<circle cx="1465.3" cy="89.5" r="3.4" fill="#fff" stroke="#0c79d3" stroke-width="1.6"/>
<circle cx="1476.2" cy="117.1" r="3.4" fill="#fff" stroke="#0c79d3" stroke-width="1.6"/>
<circle cx="1491.2" cy="119" r="3.4" fill="#fff" stroke="#0c79d3" stroke-width="1.6"/>
<circle cx="1459.6" cy="135.2" r="3.4" fill="#fff" stroke="#0c79d3" stroke-width="1.6"/>
<circle cx="1474.9" cy="154.1" r="3.4" fill="#fff" stroke="#0c79d3" stroke-width="1.6"/>
<circle cx="1590.9" cy="156.2" r="3.4" fill="#fff" stroke="#0c79d3" stroke-width="1.6"/>
<circle cx="1520.2" cy="174.6" r="3.4" fill="#fff" stroke="#0c79d3" stroke-width="1.6"/>
<circle cx="1633.8" cy="184.6" r="3.4" fill="#fff" stroke="#0c79d3" stroke-width="1.6"/>
<circle cx="1541.5" cy="189.2" r="3.4" fill="#fff" stroke="#0c79d3" stroke-width="1.6"/>
<circle cx="1445.3" cy="191.8" r="3.4" fill="#fff" stroke="#0c79d3" stroke-width="1.6"/>
<circle cx="1437.5" cy="207.3" r="3.4" fill="#fff" stroke="#0c79d3" stroke-width="1.6"/>
<circle cx="1434.4" cy="224.6" r="3.4" fill="#fff" stroke="#0c79d3" stroke-width="1.6"/>
<circle cx="1504.7" cy="240.7" r="3.4" fill="#fff" stroke="#0c79d3" stroke-width="1.6"/>
<circle cx="1456.9" cy="251" r="3.4" fill="#fff" stroke="#0c79d3" stroke-width="1.6"/>
<circle cx="1417.6" cy="263.4" r="3.4" fill="#fff" stroke="#0c79d3" stroke-width="1.6"/>
<circle cx="1415.5" cy="278.2" r="3.4" fill="#fff" stroke="#0c79d3" stroke-width="1.6"/>
<circle cx="1442.7" cy="321.6" r="3.4" fill="#fff" stroke="#0c79d3" stroke-width="1.6"/>
<circle cx="1449.9" cy="330.7" r="3.4" fill="#fff" stroke="#0c79d3" stroke-width="1.6"/>
<circle cx="1413.9" cy="367.9" r="3.4" fill="#fff" stroke="#0c79d3" stroke-width="1.6"/>
<circle cx="1450.8" cy="399.7" r="3.4" fill="#fff" stroke="#0c79d3" stroke-width="1.6"/>
<circle cx="1491.2" cy="453.2" r="3.4" fill="#fff" stroke="#0c79d3" stroke-width="1.6"/>
<path d="M1475.7,119 C1475.27,121.15 1471.82,128.03 1473.1,131.9 C1474.38,135.77 1478.42,138.88 1483.4,142.2 C1488.38,145.52 1496.87,149.72 1503,151.8 C1509.13,153.88 1512.53,152.97 1520.2,154.7 C1527.87,156.43 1538.85,159.03 1549,162.2 C1559.15,165.37 1575.55,171.02 1581.1,173.7 C1586.65,176.38 1585.73,176.38 1582.3,178.3 C1578.87,180.22 1567.97,183.38 1560.5,185.2 C1553.03,187.02 1545.17,188.35 1537.5,189.2 C1529.83,190.05 1524.48,190 1514.5,190.3 C1504.52,190.6 1488.07,189.58 1477.6,191 C1467.13,192.42 1457.73,195.78 1451.7,198.8 C1445.67,201.82 1440.1,205.22 1441.4,209.1 C1442.7,212.98 1455.63,217.35 1459.5,222.1 C1463.37,226.85 1465.03,232.87 1464.6,237.6 C1464.17,242.33 1461.2,247.05 1456.9,250.5 C1452.6,253.95 1445.05,256.15 1438.8,258.3 C1432.55,260.45 1421.55,260.38 1419.4,263.4 C1417.25,266.42 1423.53,269.93 1425.9,276.4 C1428.27,282.87 1431.88,291.6 1433.6,302.2 C1435.32,312.8 1435.62,331.65 1436.2,340 C1436.78,348.35 1436.23,346.65 1437.1,352.3 C1437.97,357.95 1439.07,366.35 1441.4,373.9 C1443.73,381.45 1449.48,393.65 1451.1,397.6" fill="none" stroke="#0c79d3" stroke-width="4.6" stroke-linejoin="round" stroke-linecap="butt"/>
<path d="M1647.5,90.5 L1684,116.4 L1661,119.3 L1607.6,134.5 L1698.4,153.7 L1632.2,156 L1674,174.3 L1770.9,184 L1683.4,191.3 L1655.9,208 L1725.4,224.5 L1600.7,239.3 L1615.9,253.1 L1614.6,263.4 L1603,278.4 L1625,321.6 L1612.1,367.9 L1626,399" fill="none" stroke="#0c79d3" stroke-width="1.45" stroke-linejoin="round"/>
<circle cx="1684" cy="116.4" r="3.4" fill="#fff" stroke="#0c79d3" stroke-width="1.6"/>
<circle cx="1661" cy="119.3" r="3.4" fill="#fff" stroke="#0c79d3" stroke-width="1.6"/>
<circle cx="1607.6" cy="134.5" r="3.4" fill="#fff" stroke="#dcebf8" stroke-width="1.6"/>
<circle cx="1698.4" cy="153.7" r="3.4" fill="#fff" stroke="#0c79d3" stroke-width="1.6"/>
<circle cx="1632.2" cy="156" r="3.4" fill="#fff" stroke="#0c79d3" stroke-width="1.6"/>
<circle cx="1674" cy="174.3" r="3.4" fill="#fff" stroke="#0c79d3" stroke-width="1.6"/>
<circle cx="1770.9" cy="184" r="3.4" fill="#fff" stroke="#0c79d3" stroke-width="1.6"/>
<circle cx="1683.4" cy="191.3" r="3.4" fill="#fff" stroke="#0c79d3" stroke-width="1.6"/>
<circle cx="1655.9" cy="208" r="3.4" fill="#fff" stroke="#0c79d3" stroke-width="1.6"/>
<circle cx="1725.4" cy="224.5" r="3.4" fill="#fff" stroke="#0c79d3" stroke-width="1.6"/>
<circle cx="1600.7" cy="239.3" r="3.4" fill="#fff" stroke="#dcebf8" stroke-width="1.6"/>
<circle cx="1615.9" cy="253.1" r="3.4" fill="#fff" stroke="#0c79d3" stroke-width="1.6"/>
<circle cx="1614.6" cy="263.4" r="3.4" fill="#fff" stroke="#0c79d3" stroke-width="1.6"/>
<circle cx="1603" cy="278.4" r="3.4" fill="#fff" stroke="#dcebf8" stroke-width="1.6"/>
<circle cx="1625" cy="321.6" r="3.4" fill="#fff" stroke="#dcebf8" stroke-width="1.6"/>
<circle cx="1612.1" cy="367.9" r="3.4" fill="#fff" stroke="#dcebf8" stroke-width="1.6"/>
<circle cx="1626" cy="399" r="3.4" fill="#fff" stroke="#dcebf8" stroke-width="1.6"/>
<path d="M1660.6,118.3 C1659.17,118.38 1653.63,117.93 1652,118.8 C1650.37,119.67 1650.18,121.08 1650.8,123.5 C1651.42,125.92 1655.7,130.05 1655.7,133.3 C1655.7,136.55 1652.33,139.83 1650.8,143 C1649.27,146.17 1646.08,150.23 1646.5,152.3 C1646.92,154.37 1649.72,154.68 1653.3,155.4 C1656.88,156.12 1663.12,154.77 1668,156.6 C1672.88,158.43 1677.73,163.13 1682.6,166.4 C1687.47,169.67 1691.52,173.58 1697.2,176.2 C1702.88,178.82 1711.82,180.5 1716.7,182.1 C1721.58,183.7 1725.45,184.55 1726.5,185.8 C1727.55,187.05 1727.08,188.77 1723,189.6 C1718.92,190.43 1707.75,190.07 1702,190.8 C1696.25,191.53 1690.93,192.2 1688.5,194 C1686.07,195.8 1687.98,198.7 1687.4,201.6 C1686.82,204.5 1687.43,208.13 1685,211.4 C1682.57,214.67 1676.97,218.27 1672.8,221.2 C1668.63,224.13 1663.82,226.2 1660,229 C1656.18,231.8 1657.2,234.78 1649.9,238 C1642.6,241.22 1622.88,245.72 1616.2,248.3 C1609.52,250.88 1610.23,250.92 1609.8,253.5 C1609.37,256.08 1612.53,257.33 1613.6,263.8 C1614.67,270.27 1615.33,281.27 1616.2,292.3 C1617.07,303.33 1618.67,312.42 1618.8,330 C1618.93,347.58 1617.3,386.5 1617,397.8" fill="none" stroke="#0c79d3" stroke-width="4.6" stroke-linejoin="round" stroke-linecap="butt"/>
<path d="M1883.4,59.5 L1868.4,74.2 L1875.6,82.7 L1839.2,84.5 L1822.9,85.8 L1787.5,86.6 L1788.8,90.5 L1781.5,91 L1783.6,103.4 L1794.7,116.3 L1776.6,129.3 L1810.8,141.7 L1825.5,154.6 L1825.5,167.6 L1854.9,180.7 L1918.7,218.6 L1946.3,250.4 L1894.5,281.8 L1877.3,310 L1867.6,337.6 L1872.1,365.2 L1918.7,380.4 L1880,394.2 L1936.6,408.3 L1878.3,417.9 L1852.4,425.5 L1838.3,435.2 L1840.4,443.8 L1948,453.1 L1867.6,462.8 L1882.5,471.4 L1837.6,480.7 L1851.4,489.7 L1880,499 L1868.7,507.6 L1870.4,516.9 L1916.3,525.6 L1899.7,534.5 L1904.9,543.8 L1871.1,552.5 L1884.9,561.8" fill="none" stroke="#165879" stroke-width="1.3" stroke-linejoin="round"/>
<circle cx="1883.4" cy="59.5" r="3.6" fill="#fff" stroke="#165879" stroke-width="1.6"/>
<circle cx="1868.4" cy="74.2" r="3.6" fill="#fff" stroke="#165879" stroke-width="1.6"/>
<circle cx="1875.6" cy="82.7" r="3.6" fill="#fff" stroke="#165879" stroke-width="1.6"/>
<circle cx="1839.2" cy="84.5" r="3.6" fill="#fff" stroke="#165879" stroke-width="1.6"/>
<circle cx="1822.9" cy="85.8" r="3.6" fill="#fff" stroke="#165879" stroke-width="1.6"/>
<circle cx="1787.5" cy="86.6" r="3.6" fill="#fff" stroke="#165879" stroke-width="1.6"/>
<circle cx="1788.8" cy="90.5" r="3.6" fill="#fff" stroke="#165879" stroke-width="1.6"/>
<circle cx="1781.5" cy="91" r="3.6" fill="#fff" stroke="#165879" stroke-width="1.6"/>
<circle cx="1783.6" cy="103.4" r="3.6" fill="#fff" stroke="#165879" stroke-width="1.6"/>
<circle cx="1794.7" cy="116.3" r="3.6" fill="#fff" stroke="#165879" stroke-width="1.6"/>
<circle cx="1776.6" cy="129.3" r="3.6" fill="#fff" stroke="#165879" stroke-width="1.6"/>
<circle cx="1810.8" cy="141.7" r="3.6" fill="#fff" stroke="#165879" stroke-width="1.6"/>
<circle cx="1825.5" cy="154.6" r="3.6" fill="#fff" stroke="#165879" stroke-width="1.6"/>
<circle cx="1825.5" cy="167.6" r="3.6" fill="#fff" stroke="#165879" stroke-width="1.6"/>
<circle cx="1854.9" cy="180.7" r="3.6" fill="#fff" stroke="#165879" stroke-width="1.6"/>
<circle cx="1918.7" cy="218.6" r="3.6" fill="#fff" stroke="#165879" stroke-width="1.6"/>
<circle cx="1946.3" cy="250.4" r="3.6" fill="#fff" stroke="#165879" stroke-width="1.6"/>
<circle cx="1894.5" cy="281.8" r="3.6" fill="#fff" stroke="#165879" stroke-width="1.6"/>
<circle cx="1877.3" cy="310" r="3.6" fill="#fff" stroke="#165879" stroke-width="1.6"/>
<circle cx="1867.6" cy="337.6" r="3.6" fill="#fff" stroke="#165879" stroke-width="1.6"/>
<circle cx="1872.1" cy="365.2" r="3.6" fill="#fff" stroke="#165879" stroke-width="1.6"/>
<circle cx="1918.7" cy="380.4" r="3.6" fill="#fff" stroke="#165879" stroke-width="1.6"/>
<circle cx="1880" cy="394.2" r="3.6" fill="#fff" stroke="#165879" stroke-width="1.6"/>
<circle cx="1936.6" cy="408.3" r="3.6" fill="#fff" stroke="#165879" stroke-width="1.6"/>
<circle cx="1878.3" cy="417.9" r="3.6" fill="#fff" stroke="#165879" stroke-width="1.6"/>
<circle cx="1852.4" cy="425.5" r="3.6" fill="#fff" stroke="#165879" stroke-width="1.6"/>
<circle cx="1838.3" cy="435.2" r="3.6" fill="#fff" stroke="#165879" stroke-width="1.6"/>
<circle cx="1840.4" cy="443.8" r="3.6" fill="#fff" stroke="#165879" stroke-width="1.6"/>
<circle cx="1948" cy="453.1" r="3.6" fill="#fff" stroke="#165879" stroke-width="1.6"/>
<circle cx="1867.6" cy="462.8" r="3.6" fill="#fff" stroke="#165879" stroke-width="1.6"/>
<circle cx="1882.5" cy="471.4" r="3.6" fill="#fff" stroke="#165879" stroke-width="1.6"/>
<circle cx="1837.6" cy="480.7" r="3.6" fill="#fff" stroke="#165879" stroke-width="1.6"/>
<circle cx="1851.4" cy="489.7" r="3.6" fill="#fff" stroke="#165879" stroke-width="1.6"/>
<circle cx="1880" cy="499" r="3.6" fill="#fff" stroke="#165879" stroke-width="1.6"/>
<circle cx="1868.7" cy="507.6" r="3.6" fill="#fff" stroke="#165879" stroke-width="1.6"/>
<circle cx="1870.4" cy="516.9" r="3.6" fill="#fff" stroke="#165879" stroke-width="1.6"/>
<circle cx="1916.3" cy="525.6" r="3.6" fill="#fff" stroke="#165879" stroke-width="1.6"/>
<circle cx="1899.7" cy="534.5" r="3.6" fill="#fff" stroke="#165879" stroke-width="1.6"/>
<circle cx="1904.9" cy="543.8" r="3.6" fill="#fff" stroke="#165879" stroke-width="1.6"/>
<circle cx="1871.1" cy="552.5" r="3.6" fill="#fff" stroke="#165879" stroke-width="1.6"/>
<circle cx="1884.9" cy="561.8" r="3.6" fill="#fff" stroke="#165879" stroke-width="1.6"/>
<path d="M1883.4,59.5 C1880.13,62.08 1870.95,71.13 1863.8,75 C1856.65,78.87 1849.13,80.77 1840.5,82.7 C1831.87,84.63 1820.18,85.38 1812,86.6 C1803.82,87.82 1795.92,88.07 1791.4,90 C1786.88,91.93 1785.77,94.23 1784.9,98.2 C1784.03,102.17 1784.68,108.62 1786.2,113.8 C1787.72,118.98 1789.7,124.13 1794,129.3 C1798.3,134.47 1806.4,140.07 1812,144.8 C1817.6,149.53 1820.45,151.72 1827.6,157.7 C1834.75,163.68 1845.47,174 1854.9,180.7 C1864.33,187.4 1874.72,191.87 1884.2,197.9 C1893.68,203.93 1906.05,210 1911.8,216.9 C1917.55,223.8 1918.7,231.53 1918.7,239.3 C1918.7,247.07 1915.83,255.45 1911.8,263.5 C1907.77,271.55 1899.97,278.98 1894.5,287.6 C1889.03,296.22 1882.45,306.57 1879,315.2 C1875.55,323.83 1873.52,330.77 1873.8,339.4 C1874.08,348.03 1877.82,360.23 1880.7,367 C1883.58,373.77 1887.07,374.97 1891.1,380 C1895.13,385.03 1902.03,392.6 1904.9,397.2 C1907.77,401.8 1911.18,404.43 1908.3,407.6 C1905.42,410.77 1895.07,413.62 1887.6,416.2 C1880.13,418.78 1870.97,419.93 1863.5,423.1 C1856.03,426.27 1846.25,431.47 1842.8,435.2 C1839.35,438.93 1839.35,440.9 1842.8,445.5 C1846.25,450.1 1861.2,456.47 1863.5,462.8 C1865.8,469.13 1856.03,477.18 1856.6,483.5 C1857.17,489.82 1862.3,494.95 1866.9,500.7 C1871.5,506.45 1878.45,512.82 1884.2,518 C1889.95,523.18 1900.83,526.63 1901.4,531.8 C1901.97,536.97 1890.75,544.12 1887.6,549 C1884.45,553.88 1883.35,559.08 1882.5,561.1" fill="none" stroke="#165879" stroke-width="4.4" stroke-linejoin="round" stroke-linecap="butt"/>
</svg>
</body></html>
